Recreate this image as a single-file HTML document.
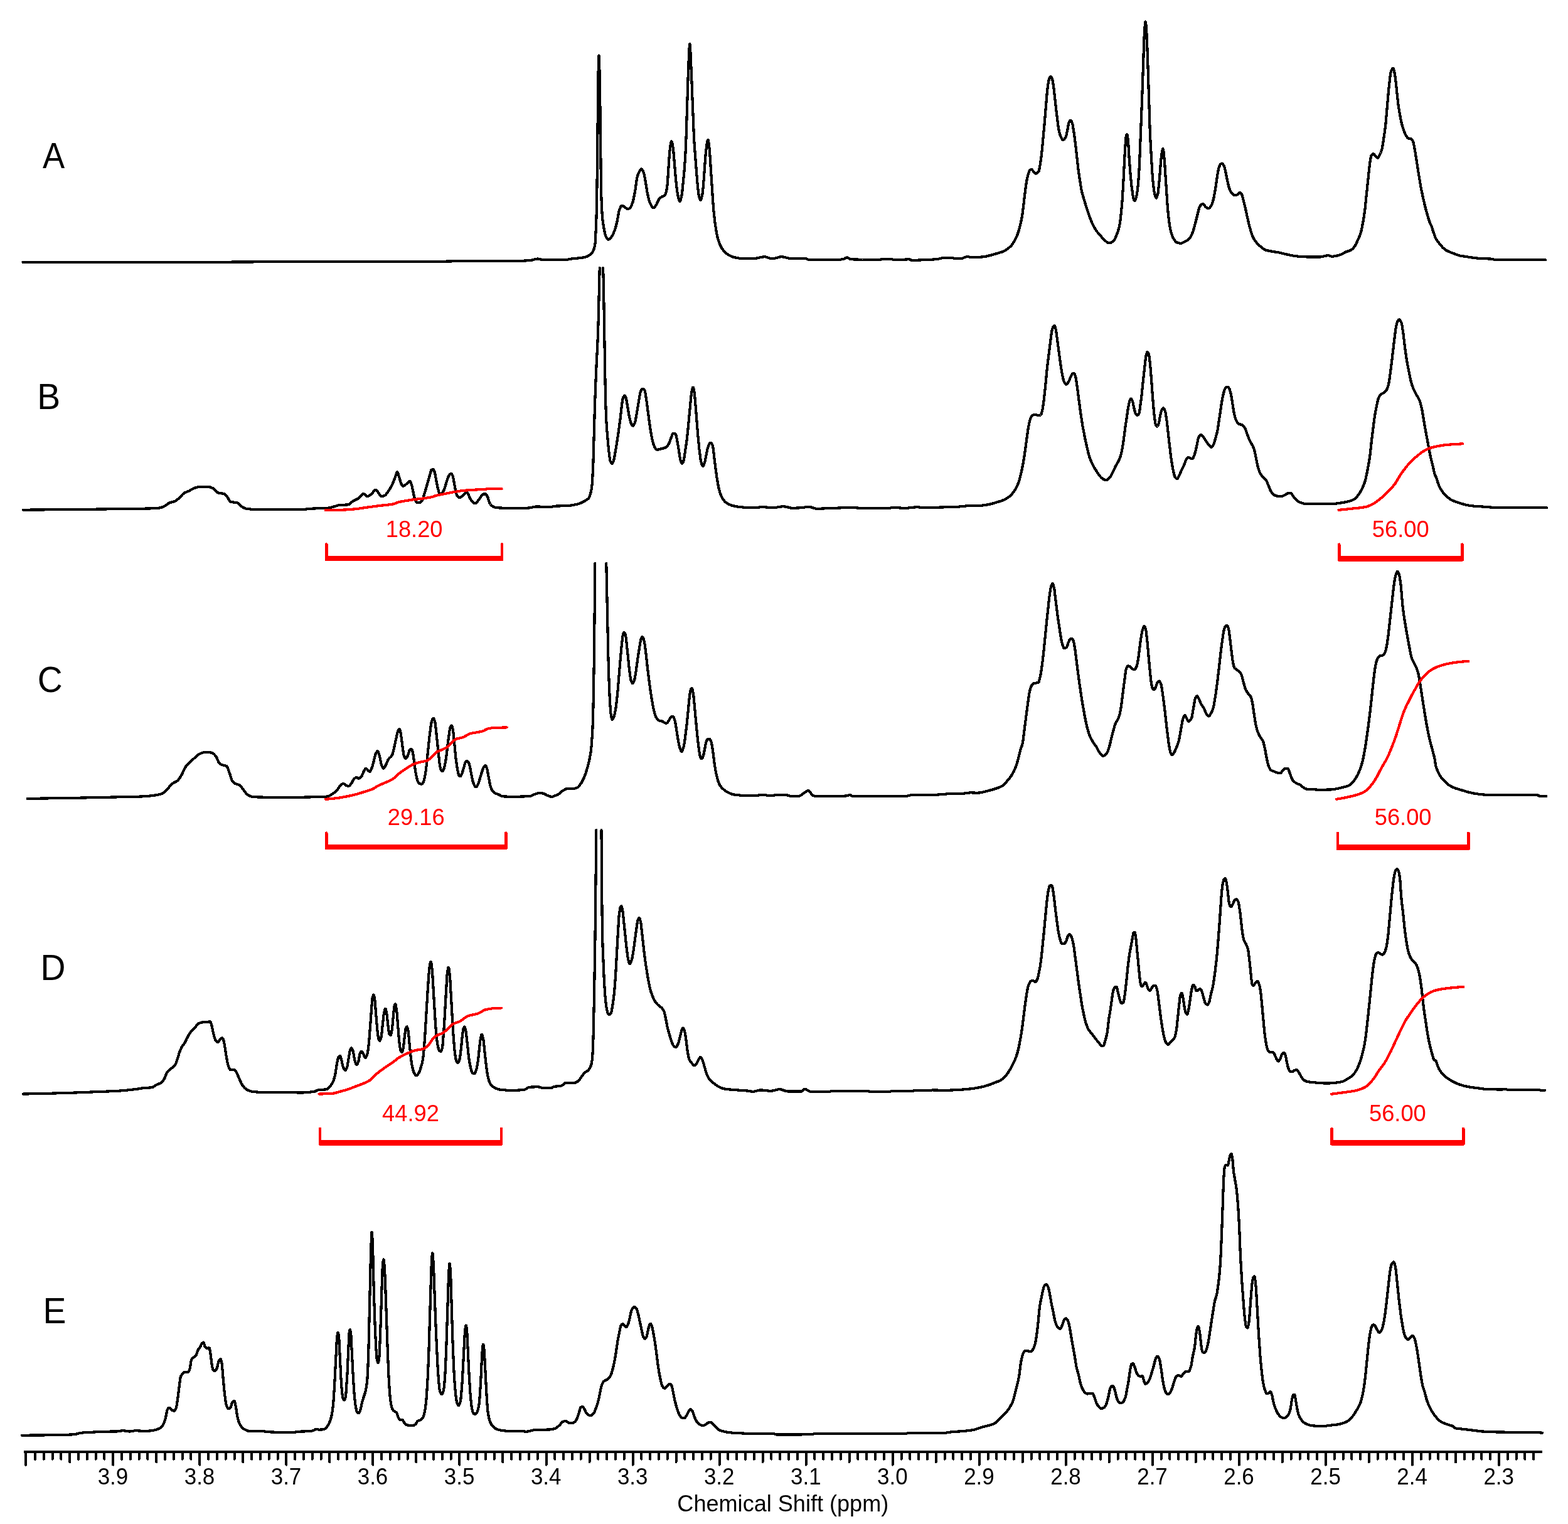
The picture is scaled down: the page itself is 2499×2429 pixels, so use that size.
<!DOCTYPE html>
<html lang="en"><head><meta charset="utf-8"><title>NMR spectra</title>
<style>html,body{margin:0;padding:0;background:#fff}body{width:2499px;height:2429px;overflow:hidden}svg{display:block;shape-rendering:crispEdges}.t{font-family:"Liberation Sans",sans-serif;fill:#000}.L{font-family:"Liberation Sans",sans-serif;fill:#000}.r{font-family:"Liberation Sans",sans-serif;fill:#f00}.s{fill:none;stroke:#000;stroke-width:4.2;stroke-linejoin:round;stroke-linecap:round}.i{fill:none;stroke:#f00;stroke-width:4.2;stroke-linejoin:round;stroke-linecap:round}</style></head><body>
<svg width="2499" height="2429" viewBox="0 0 2499 2429">
<rect width="2499" height="2429" fill="#fff"/>
<path class="s" d="M36.5 417.8 L336.0 417.8 L439.5 417.2 L678.0 416.9 L707.0 416.7 L748.0 415.8 L835.0 415.6 L840.5 415.3 L848.0 414.5 L854.5 412.8 L857.0 412.5 L859.0 412.7 L863.5 413.9 L865.5 414.2 L901.0 414.3 L910.5 412.6 L927.5 410.8 L933.5 409.6 L937.0 408.1 L940.0 406.2 L943.0 403.6 L944.0 402.4 L945.0 400.7 L946.5 397.1 L948.0 391.5 L948.5 388.4 L949.0 382.1 L950.5 347.4 L951.0 325.1 L951.5 295.1 L953.5 117.7 L954.0 98.3 L954.5 88.6 L955.0 94.2 L956.0 135.4 L958.0 302.0 L959.0 331.7 L960.0 346.1 L961.0 355.0 L962.0 361.4 L964.0 371.5 L965.0 375.3 L966.0 377.7 L968.0 380.7 L969.0 381.6 L970.0 381.8 L971.0 381.4 L972.0 380.6 L975.5 376.2 L977.5 372.4 L979.5 367.4 L981.5 361.0 L983.5 353.1 L986.5 336.4 L988.0 332.4 L989.5 329.2 L990.5 328.0 L991.0 327.8 L992.5 328.1 L996.0 330.2 L999.0 332.7 L1000.5 333.3 L1002.0 332.9 L1004.0 331.5 L1005.0 330.4 L1006.0 328.7 L1008.5 322.0 L1010.0 316.0 L1012.5 302.6 L1014.5 287.9 L1015.5 282.4 L1016.5 279.1 L1018.0 275.2 L1020.5 270.7 L1021.5 269.5 L1022.0 269.3 L1022.5 269.4 L1023.5 270.3 L1025.0 272.9 L1026.0 275.4 L1027.0 279.9 L1029.0 290.8 L1031.5 306.3 L1034.0 318.1 L1035.0 321.4 L1036.0 323.7 L1038.0 327.7 L1039.5 329.9 L1040.5 330.8 L1041.5 331.1 L1042.0 331.0 L1043.0 330.3 L1044.0 329.1 L1046.5 325.4 L1049.5 318.8 L1051.0 316.5 L1053.5 314.5 L1055.5 313.3 L1058.5 312.0 L1059.5 311.3 L1060.0 310.7 L1060.5 309.8 L1061.5 306.7 L1063.0 299.6 L1063.5 295.3 L1064.5 282.3 L1067.0 243.9 L1068.5 231.6 L1069.5 226.4 L1070.0 225.3 L1070.5 225.4 L1071.0 226.6 L1071.5 228.6 L1073.0 237.4 L1077.0 285.2 L1078.0 295.1 L1079.5 306.5 L1081.0 314.8 L1082.5 319.8 L1083.0 320.9 L1083.5 321.1 L1084.0 320.6 L1084.5 319.5 L1086.5 311.2 L1087.5 303.7 L1090.5 272.6 L1092.0 252.6 L1093.0 233.9 L1093.5 220.0 L1097.0 110.6 L1098.5 77.3 L1099.0 70.9 L1099.5 70.1 L1100.0 75.5 L1100.5 85.1 L1102.0 119.0 L1106.0 219.8 L1107.0 235.0 L1111.0 286.4 L1113.0 306.6 L1114.0 313.1 L1115.5 317.7 L1116.0 318.6 L1116.5 319.0 L1117.0 318.6 L1118.0 316.1 L1119.5 309.4 L1120.5 300.2 L1122.0 282.5 L1124.0 253.3 L1125.0 241.9 L1126.5 229.4 L1127.5 225.0 L1128.0 223.5 L1128.5 223.0 L1129.0 224.2 L1130.0 230.4 L1131.0 240.7 L1136.0 317.7 L1137.5 336.6 L1139.5 355.3 L1142.0 370.9 L1143.5 378.0 L1145.5 384.8 L1147.5 390.1 L1150.0 395.0 L1153.5 399.9 L1156.5 403.1 L1160.0 405.7 L1164.5 408.2 L1168.5 409.7 L1173.5 410.8 L1179.5 411.9 L1184.5 412.3 L1202.0 412.2 L1205.5 411.6 L1214.0 409.7 L1218.5 409.2 L1221.5 409.7 L1228.5 412.1 L1231.5 412.3 L1235.0 411.7 L1242.5 409.6 L1246.0 409.2 L1249.0 409.6 L1256.0 411.4 L1259.0 411.9 L1277.0 412.3 L1284.0 411.9 L1285.5 412.4 L1288.5 414.0 L1290.0 414.3 L1331.0 414.3 L1334.5 414.2 L1339.5 413.7 L1345.0 412.7 L1346.0 412.3 L1348.5 410.7 L1350.0 410.3 L1351.5 410.7 L1355.0 413.0 L1356.5 413.3 L1374.5 413.8 L1396.5 413.9 L1401.5 413.7 L1412.0 412.9 L1416.5 412.7 L1419.0 412.9 L1425.5 414.1 L1428.0 414.3 L1433.0 414.2 L1444.0 413.5 L1449.0 413.3 L1450.0 413.5 L1452.0 414.5 L1453.0 414.7 L1460.0 414.7 L1477.0 414.1 L1488.5 413.5 L1496.5 412.6 L1500.5 411.5 L1502.0 411.3 L1518.5 411.3 L1524.0 412.3 L1530.0 412.1 L1534.0 411.7 L1538.5 409.8 L1540.5 409.3 L1543.0 409.3 L1549.0 410.1 L1551.5 410.3 L1558.5 410.0 L1568.0 409.2 L1573.0 408.3 L1581.0 406.3 L1596.5 401.7 L1599.5 400.5 L1602.0 399.2 L1606.0 396.6 L1609.5 393.6 L1612.0 391.1 L1614.5 387.7 L1617.5 382.8 L1620.0 377.8 L1622.0 372.6 L1624.0 366.4 L1627.0 354.9 L1629.5 341.6 L1634.5 299.8 L1636.0 289.6 L1638.0 280.1 L1640.0 273.7 L1641.0 271.7 L1641.5 271.2 L1643.0 270.2 L1644.0 270.0 L1645.0 270.7 L1647.0 273.3 L1649.5 275.8 L1650.5 276.5 L1651.5 276.6 L1653.0 275.9 L1654.5 274.5 L1655.5 273.0 L1656.0 271.4 L1657.0 266.7 L1659.0 254.3 L1661.0 236.8 L1664.5 198.5 L1668.5 150.6 L1669.5 140.9 L1670.5 133.6 L1671.5 127.9 L1672.0 126.1 L1673.0 123.9 L1674.0 122.3 L1674.5 122.0 L1675.0 122.0 L1676.0 123.4 L1677.0 126.1 L1678.0 129.8 L1680.0 145.1 L1683.5 177.1 L1686.5 201.1 L1688.0 209.6 L1690.0 216.6 L1692.0 220.7 L1693.5 222.7 L1694.0 223.0 L1695.0 222.8 L1696.0 222.1 L1697.0 220.9 L1698.5 218.7 L1699.5 215.8 L1701.5 206.0 L1703.0 196.8 L1703.5 195.2 L1705.0 192.5 L1706.0 191.7 L1706.5 191.7 L1707.5 192.9 L1709.0 196.7 L1709.5 198.6 L1712.0 214.0 L1714.0 229.5 L1718.0 265.9 L1720.0 280.5 L1723.0 299.8 L1724.0 304.9 L1725.5 310.8 L1732.0 332.0 L1736.5 345.3 L1739.5 353.1 L1743.0 360.5 L1746.5 366.6 L1749.0 370.0 L1753.5 375.0 L1757.5 380.0 L1759.5 382.2 L1763.5 385.4 L1765.5 386.7 L1767.5 387.3 L1769.0 387.3 L1771.5 386.3 L1774.5 384.2 L1775.5 383.2 L1777.0 380.6 L1779.5 374.8 L1782.0 368.0 L1783.5 362.6 L1785.0 355.3 L1787.0 338.3 L1788.5 320.6 L1790.0 296.8 L1793.0 238.1 L1794.5 219.3 L1795.0 216.3 L1795.5 215.1 L1796.0 214.3 L1796.5 214.4 L1797.0 216.5 L1798.0 224.5 L1799.5 249.9 L1801.5 276.8 L1803.5 297.0 L1805.5 311.4 L1806.5 316.2 L1807.5 318.9 L1808.0 319.8 L1808.5 320.0 L1809.0 319.6 L1810.0 317.2 L1811.5 311.7 L1812.0 309.1 L1813.0 302.2 L1814.0 293.1 L1815.0 279.3 L1816.0 261.6 L1820.0 161.9 L1823.5 60.1 L1824.5 43.9 L1825.0 37.8 L1825.5 34.5 L1826.0 35.4 L1826.5 40.1 L1827.5 54.5 L1828.0 64.8 L1829.5 106.5 L1832.5 202.1 L1833.5 225.4 L1836.5 277.1 L1837.5 288.8 L1839.0 302.3 L1839.5 305.5 L1841.0 312.1 L1842.0 315.0 L1842.5 315.6 L1843.0 315.5 L1844.0 313.5 L1845.5 308.0 L1847.0 295.0 L1848.5 277.9 L1850.0 257.6 L1851.0 248.0 L1852.0 241.1 L1853.0 237.8 L1853.5 237.3 L1854.0 238.8 L1854.5 242.2 L1856.0 257.3 L1860.5 325.5 L1862.0 343.1 L1863.5 355.2 L1864.5 361.7 L1865.5 366.6 L1868.0 375.4 L1869.5 379.0 L1871.5 382.3 L1873.5 384.9 L1875.0 386.1 L1877.5 387.0 L1880.0 387.6 L1882.0 387.8 L1884.0 387.4 L1890.0 384.4 L1892.5 383.0 L1895.0 381.0 L1897.0 378.4 L1899.5 373.7 L1901.5 368.7 L1905.5 354.0 L1911.0 332.0 L1912.0 329.6 L1914.0 326.4 L1915.5 325.4 L1916.5 325.0 L1917.5 324.9 L1918.5 325.7 L1921.5 329.8 L1924.0 331.5 L1925.0 332.0 L1926.0 332.2 L1927.0 331.9 L1928.0 331.2 L1930.5 327.8 L1931.5 325.7 L1932.5 322.7 L1934.0 317.2 L1935.0 312.6 L1937.5 298.0 L1940.0 280.4 L1942.0 269.6 L1943.0 266.1 L1944.5 262.6 L1945.0 261.9 L1946.0 261.1 L1947.5 260.5 L1948.5 261.0 L1949.5 262.3 L1950.5 264.0 L1951.5 266.8 L1953.5 274.8 L1955.5 285.1 L1958.0 296.1 L1959.0 299.6 L1961.0 304.4 L1962.0 306.1 L1964.0 308.6 L1965.5 310.1 L1966.5 310.7 L1968.5 311.1 L1970.5 311.2 L1971.5 310.6 L1975.0 307.4 L1976.0 306.8 L1976.5 306.9 L1977.5 307.7 L1979.0 310.0 L1979.5 311.1 L1980.5 314.4 L1985.0 332.6 L1989.0 351.0 L1991.5 361.3 L1994.0 369.9 L1996.0 375.8 L1997.5 379.0 L1999.0 381.7 L2001.0 384.6 L2003.0 387.2 L2007.0 391.3 L2014.0 397.0 L2016.5 398.4 L2020.0 399.3 L2027.5 400.8 L2038.0 402.4 L2048.0 404.9 L2060.0 407.4 L2065.0 408.2 L2072.0 408.9 L2081.5 409.4 L2104.5 409.4 L2107.5 409.0 L2114.0 407.5 L2116.5 407.2 L2118.0 407.3 L2122.0 408.7 L2124.5 408.7 L2127.0 408.3 L2131.0 407.5 L2136.0 406.1 L2138.5 405.0 L2145.0 401.5 L2151.5 399.3 L2154.5 397.6 L2156.5 395.8 L2159.0 392.7 L2161.5 388.3 L2167.5 374.7 L2169.0 370.1 L2170.5 363.8 L2173.0 350.2 L2175.5 332.7 L2182.5 265.6 L2184.0 254.6 L2185.0 249.3 L2185.5 248.1 L2187.0 246.0 L2188.0 245.2 L2189.0 245.1 L2190.0 245.9 L2191.5 247.8 L2194.5 251.1 L2195.5 251.6 L2196.0 251.6 L2197.0 250.4 L2200.5 243.5 L2202.0 239.5 L2203.0 235.7 L2206.5 212.7 L2208.5 196.7 L2213.0 145.1 L2215.5 121.8 L2216.5 115.5 L2217.0 113.9 L2218.5 110.2 L2219.5 108.9 L2220.0 108.7 L2220.5 109.1 L2221.5 111.7 L2223.0 118.1 L2224.0 125.5 L2228.5 166.9 L2230.0 176.6 L2232.0 187.7 L2233.5 195.1 L2234.5 199.1 L2236.5 205.7 L2238.5 211.1 L2240.0 214.4 L2242.0 217.8 L2243.0 219.2 L2244.0 220.1 L2245.0 220.5 L2248.5 221.1 L2249.5 221.6 L2251.0 223.5 L2252.0 225.3 L2252.5 226.8 L2253.5 231.4 L2255.5 242.4 L2261.5 280.6 L2264.5 298.2 L2268.0 315.5 L2272.0 332.0 L2275.5 344.6 L2277.5 351.1 L2279.0 355.2 L2281.5 360.4 L2284.0 368.5 L2287.0 377.1 L2288.0 379.4 L2290.0 382.8 L2295.5 390.2 L2299.5 394.6 L2302.0 396.8 L2304.5 398.7 L2309.0 401.0 L2320.0 405.3 L2324.5 406.9 L2328.0 407.8 L2349.5 411.0 L2358.0 411.9 L2378.0 412.7 L2379.0 412.8 L2381.0 413.7 L2382.0 413.9 L2462.5 413.9 L2463.3 414.2"/>
<path class="s" d="M37.0 812.7 L118.5 812.0 L223.5 810.8 L244.5 810.3 L254.0 809.5 L257.5 808.8 L261.5 807.0 L264.0 805.6 L268.5 802.3 L270.5 801.2 L277.0 799.5 L279.5 798.5 L282.0 796.8 L286.0 793.4 L291.0 788.0 L293.0 786.2 L295.5 784.8 L301.5 782.4 L307.5 778.8 L311.5 777.3 L315.0 776.4 L319.5 775.9 L324.0 775.7 L332.0 775.9 L334.0 776.2 L336.0 776.8 L339.5 778.2 L340.5 778.9 L345.0 783.9 L346.5 785.1 L349.0 785.8 L355.5 786.7 L358.0 787.5 L359.5 788.7 L362.5 792.3 L366.0 798.4 L367.0 799.6 L369.0 800.2 L376.0 800.9 L378.5 801.5 L380.0 802.5 L383.5 806.0 L385.0 807.3 L389.5 809.8 L392.5 810.8 L400.0 811.6 L407.0 811.9 L459.5 811.6 L480.5 811.9 L486.0 811.7 L499.5 810.5 L522.0 809.8 L525.5 809.2 L531.5 807.7 L537.5 805.8 L540.0 805.1 L556.0 804.3 L557.5 803.3 L561.5 799.4 L564.0 798.0 L569.0 795.6 L571.0 794.5 L572.5 793.1 L576.5 788.6 L578.0 787.4 L579.0 787.1 L580.0 787.1 L581.0 787.8 L584.0 790.7 L585.0 791.1 L586.5 790.9 L588.5 789.9 L592.0 787.5 L596.5 782.2 L597.5 781.3 L598.5 780.9 L599.5 781.1 L600.5 781.9 L604.0 786.6 L606.0 789.8 L607.0 790.9 L607.5 791.1 L609.5 790.9 L613.0 790.0 L614.5 788.8 L616.5 786.3 L621.0 779.8 L624.0 774.6 L625.5 771.6 L627.0 767.9 L629.5 761.3 L632.0 753.7 L632.5 752.8 L633.0 752.3 L633.5 752.5 L634.5 754.7 L639.0 770.2 L640.5 772.8 L642.0 774.5 L643.0 774.7 L644.5 774.1 L648.0 771.2 L651.0 768.1 L652.0 767.4 L653.0 767.0 L653.5 767.1 L654.0 767.7 L655.0 769.9 L656.5 774.5 L660.0 791.1 L661.5 796.7 L663.0 799.6 L664.0 800.9 L664.5 801.3 L669.0 801.3 L670.0 800.9 L671.5 799.3 L673.0 797.1 L674.0 795.0 L678.0 781.7 L687.0 750.3 L687.5 749.2 L688.0 748.8 L690.0 748.2 L690.5 748.3 L691.5 749.4 L693.0 753.1 L695.5 767.1 L697.5 777.0 L699.5 784.5 L700.5 787.1 L701.0 787.4 L703.5 787.4 L704.0 787.3 L705.0 786.1 L707.0 782.2 L708.0 779.7 L710.0 773.8 L712.5 765.3 L715.0 758.8 L716.5 756.3 L718.0 755.0 L719.0 754.8 L719.5 755.0 L720.5 756.3 L721.5 758.3 L722.0 759.8 L726.5 784.4 L728.0 789.1 L729.0 791.0 L730.5 792.3 L731.5 792.9 L732.5 793.1 L733.5 792.9 L737.0 790.5 L740.5 786.8 L742.5 784.4 L743.0 784.0 L743.5 784.0 L744.5 784.7 L746.5 788.1 L749.0 794.2 L751.0 797.4 L753.5 800.2 L755.5 801.8 L756.5 802.2 L757.5 802.3 L758.0 802.1 L759.5 800.8 L762.5 797.4 L766.0 792.2 L768.5 789.2 L770.0 787.7 L771.0 787.4 L774.0 787.4 L774.5 787.6 L775.0 788.1 L776.0 789.9 L777.5 793.1 L780.0 801.0 L781.5 803.5 L783.0 805.4 L784.5 806.6 L787.5 808.2 L789.5 808.9 L792.5 809.3 L810.0 810.0 L829.0 810.3 L835.5 810.0 L844.0 809.4 L852.0 807.8 L855.0 807.4 L867.0 807.8 L880.0 807.8 L883.0 806.7 L903.5 806.1 L909.5 805.6 L914.0 804.9 L919.5 803.7 L922.5 802.8 L925.5 801.7 L930.0 799.6 L935.0 796.8 L937.5 794.7 L939.0 792.7 L940.5 788.8 L942.0 783.3 L943.0 777.9 L944.0 769.0 L945.5 735.6 L948.0 647.0 L949.0 618.9 L950.5 583.8 L952.5 544.4 L953.5 517.0 L955.7 427.2"/>
<path class="s" d="M961.0 427.2 L961.5 438.1 L962.0 457.2 L964.5 608.2 L965.0 634.1 L966.0 664.5 L967.0 682.1 L970.0 716.5 L972.0 732.4 L972.5 734.4 L973.5 736.7 L974.5 738.3 L975.0 738.7 L975.5 738.7 L976.0 738.4 L977.0 736.7 L978.0 734.3 L979.0 730.1 L983.0 706.6 L985.0 693.4 L988.5 667.9 L991.0 645.4 L992.5 636.1 L993.0 634.0 L993.5 632.7 L995.0 630.9 L995.5 630.6 L996.0 630.8 L996.5 631.5 L997.5 634.0 L998.5 637.8 L1002.5 661.8 L1004.5 670.7 L1006.0 675.4 L1007.5 677.8 L1008.5 678.6 L1009.0 678.7 L1009.5 678.4 L1010.0 677.8 L1011.0 675.7 L1012.5 671.5 L1013.0 669.3 L1020.0 627.6 L1021.0 624.2 L1022.0 621.8 L1022.5 621.0 L1023.5 620.2 L1025.0 619.6 L1026.0 620.2 L1027.5 622.6 L1028.0 624.0 L1028.5 626.5 L1031.0 642.8 L1034.5 670.0 L1037.0 687.3 L1038.5 695.7 L1040.0 702.6 L1041.5 708.1 L1043.0 712.1 L1045.5 715.8 L1046.5 716.6 L1047.0 716.7 L1049.5 716.4 L1056.0 714.8 L1060.0 713.5 L1062.0 712.4 L1063.0 711.6 L1064.0 710.4 L1066.5 706.2 L1071.0 693.9 L1072.0 691.7 L1072.5 691.3 L1073.5 690.8 L1075.0 690.7 L1076.0 691.5 L1077.0 693.0 L1077.5 694.0 L1078.0 695.8 L1081.0 712.0 L1084.0 731.9 L1085.0 735.2 L1086.0 737.5 L1086.5 738.3 L1087.0 738.7 L1087.5 738.6 L1088.5 737.1 L1090.0 732.7 L1094.5 702.2 L1096.0 688.9 L1101.5 630.9 L1103.0 620.7 L1104.0 618.0 L1104.5 617.4 L1105.0 617.8 L1105.5 619.4 L1106.5 624.6 L1107.0 628.7 L1108.5 645.7 L1112.0 690.3 L1114.5 716.5 L1116.5 731.9 L1117.5 736.8 L1118.5 740.1 L1119.5 742.5 L1120.0 743.0 L1120.5 743.1 L1121.0 742.6 L1121.5 741.6 L1123.5 735.3 L1127.0 717.8 L1128.0 713.8 L1129.0 710.7 L1130.0 708.1 L1131.0 706.7 L1132.0 706.0 L1133.0 705.6 L1133.5 705.8 L1134.0 706.3 L1135.5 709.4 L1136.0 711.0 L1136.5 713.9 L1140.5 746.9 L1142.5 761.5 L1145.0 775.5 L1146.0 780.0 L1147.5 785.2 L1149.5 790.6 L1151.0 793.6 L1153.5 797.3 L1155.5 799.7 L1157.5 801.4 L1161.0 803.5 L1164.0 804.8 L1167.5 806.0 L1173.0 807.2 L1179.0 808.0 L1190.5 809.1 L1198.5 809.4 L1202.5 809.3 L1210.5 808.4 L1214.0 808.2 L1218.5 808.3 L1229.0 809.1 L1233.5 809.2 L1237.0 808.8 L1244.5 807.5 L1248.0 807.2 L1252.0 807.6 L1260.5 809.6 L1262.5 809.8 L1265.5 809.8 L1278.0 809.2 L1286.0 808.0 L1289.0 807.8 L1292.0 808.2 L1299.0 810.4 L1302.0 810.9 L1345.0 809.2 L1363.5 809.2 L1369.5 809.8 L1416.5 809.8 L1418.5 809.7 L1423.0 808.9 L1425.0 808.8 L1437.5 809.7 L1441.5 809.8 L1447.0 809.6 L1458.5 808.4 L1463.5 808.2 L1469.0 809.2 L1475.0 809.2 L1526.5 807.8 L1542.0 806.2 L1562.0 805.8 L1567.5 805.4 L1574.0 804.4 L1580.5 803.0 L1587.5 800.8 L1595.5 798.5 L1599.5 796.9 L1603.5 794.9 L1607.0 792.7 L1610.0 790.2 L1613.5 786.6 L1616.5 782.7 L1619.0 778.7 L1621.5 773.7 L1623.0 769.9 L1624.5 765.2 L1627.5 753.9 L1630.5 739.2 L1633.0 723.7 L1638.5 684.0 L1640.5 673.2 L1641.5 669.5 L1642.5 666.7 L1643.5 664.6 L1644.5 663.2 L1646.0 661.9 L1647.0 661.4 L1650.0 660.9 L1651.0 661.0 L1654.0 661.9 L1656.0 661.9 L1658.5 661.5 L1659.0 661.0 L1659.5 660.0 L1661.0 655.2 L1662.0 650.2 L1664.0 635.1 L1666.0 616.7 L1669.0 584.8 L1675.5 533.1 L1676.5 527.0 L1678.0 521.7 L1678.5 520.6 L1679.0 520.1 L1680.0 519.3 L1680.5 519.2 L1681.0 519.6 L1681.5 520.7 L1683.0 526.1 L1689.5 574.9 L1691.5 588.5 L1693.0 597.2 L1694.5 604.1 L1695.5 607.5 L1696.5 609.6 L1698.0 611.8 L1699.0 612.5 L1700.0 612.3 L1701.5 610.8 L1703.5 607.7 L1706.0 601.5 L1708.5 596.5 L1709.0 595.9 L1710.0 595.3 L1711.5 594.9 L1712.0 595.2 L1713.0 597.0 L1714.0 599.6 L1715.0 604.4 L1717.0 618.3 L1722.0 656.6 L1725.5 679.5 L1730.0 702.5 L1735.0 724.0 L1736.5 728.9 L1739.0 735.4 L1741.5 740.7 L1744.5 746.2 L1751.0 756.1 L1753.5 759.5 L1755.5 761.6 L1759.0 764.0 L1761.5 765.1 L1762.5 765.2 L1763.5 765.1 L1764.5 764.7 L1766.0 763.7 L1768.0 762.0 L1769.0 760.8 L1770.5 758.3 L1779.0 741.2 L1783.0 734.3 L1784.5 730.9 L1785.5 728.0 L1787.5 720.5 L1789.0 712.7 L1790.5 703.3 L1793.5 680.2 L1798.0 650.0 L1800.0 639.9 L1801.0 637.4 L1802.0 635.9 L1802.5 635.5 L1803.0 635.6 L1803.5 636.2 L1804.5 638.3 L1805.5 641.4 L1807.0 648.9 L1808.5 655.0 L1809.5 658.3 L1810.0 659.3 L1811.5 661.2 L1812.5 661.9 L1813.0 661.9 L1814.0 661.2 L1815.5 658.3 L1816.5 653.3 L1819.5 630.0 L1822.5 600.8 L1826.0 569.7 L1826.5 566.9 L1827.5 563.3 L1828.0 562.0 L1828.5 561.2 L1829.0 561.2 L1830.0 562.3 L1831.0 564.5 L1832.0 570.7 L1834.0 591.1 L1837.5 638.4 L1839.0 656.3 L1840.5 669.2 L1841.5 675.3 L1842.0 677.0 L1843.5 679.3 L1844.0 679.6 L1844.5 679.5 L1845.0 679.0 L1846.0 677.0 L1847.0 674.3 L1849.0 662.8 L1850.5 656.6 L1851.5 653.5 L1853.0 651.2 L1854.0 650.5 L1854.5 650.6 L1855.0 651.1 L1856.5 654.2 L1857.5 657.6 L1859.5 670.2 L1865.0 718.6 L1866.5 730.5 L1868.0 740.4 L1870.0 751.0 L1872.0 758.8 L1873.0 760.9 L1874.5 762.5 L1875.5 763.0 L1876.0 763.0 L1876.5 762.7 L1877.5 761.4 L1879.5 757.8 L1883.0 749.4 L1887.0 741.5 L1890.0 733.1 L1892.0 730.1 L1893.0 729.1 L1894.0 728.8 L1896.5 730.2 L1899.5 731.0 L1900.5 731.0 L1901.5 729.9 L1903.5 725.3 L1905.0 720.4 L1907.0 712.0 L1909.5 699.3 L1911.0 695.7 L1912.0 694.4 L1913.0 693.6 L1914.0 693.1 L1915.0 693.2 L1915.5 693.6 L1919.0 698.2 L1925.5 708.2 L1929.0 712.0 L1930.0 712.6 L1931.0 712.6 L1932.0 711.7 L1933.0 710.2 L1934.5 707.4 L1935.5 704.6 L1939.5 690.1 L1940.5 685.7 L1947.0 642.0 L1948.5 633.5 L1950.0 626.8 L1951.5 621.8 L1953.0 618.7 L1954.0 617.5 L1955.5 616.9 L1956.5 616.7 L1957.0 616.8 L1958.0 617.7 L1959.5 620.1 L1961.0 624.7 L1962.5 631.7 L1966.5 657.1 L1968.5 665.4 L1970.0 669.8 L1972.0 673.2 L1973.5 675.0 L1975.0 676.0 L1979.0 677.0 L1980.5 677.6 L1982.0 679.1 L1984.5 683.1 L1991.0 700.7 L1996.5 710.7 L1998.0 714.0 L1999.0 716.8 L2000.5 723.3 L2004.0 741.2 L2006.0 748.5 L2007.5 752.5 L2009.5 756.1 L2011.5 758.9 L2013.0 760.6 L2016.5 763.8 L2018.0 765.7 L2019.5 768.7 L2025.0 782.1 L2027.0 785.3 L2029.0 787.7 L2031.5 789.3 L2034.0 790.3 L2038.0 791.0 L2042.0 791.2 L2043.0 791.1 L2044.5 790.6 L2053.0 785.9 L2055.0 785.8 L2057.5 786.2 L2058.5 787.1 L2060.5 790.3 L2064.0 794.9 L2065.5 796.4 L2068.0 798.5 L2070.5 800.0 L2074.5 801.6 L2077.5 802.5 L2080.5 803.1 L2100.5 803.4 L2124.5 803.0 L2130.5 802.5 L2139.5 801.2 L2145.0 800.1 L2151.5 798.5 L2156.0 796.9 L2159.0 795.3 L2161.5 793.0 L2165.0 788.7 L2168.0 784.2 L2171.5 777.5 L2174.0 771.6 L2176.0 765.6 L2179.0 752.0 L2182.5 732.4 L2183.5 725.1 L2186.0 702.0 L2190.5 666.5 L2192.0 657.2 L2195.0 642.2 L2196.5 636.0 L2197.5 633.5 L2199.0 630.6 L2200.0 629.2 L2201.0 628.3 L2205.5 626.0 L2207.5 624.4 L2209.0 622.7 L2210.0 621.2 L2211.0 619.1 L2213.0 612.8 L2214.5 604.2 L2217.0 585.4 L2222.5 538.8 L2224.5 523.6 L2225.5 518.5 L2227.0 513.1 L2227.5 511.9 L2228.5 510.4 L2229.5 509.4 L2230.0 509.3 L2231.0 509.9 L2232.5 512.2 L2233.5 514.5 L2234.5 518.5 L2236.5 532.0 L2239.0 553.1 L2241.5 570.9 L2243.5 582.5 L2248.0 605.2 L2250.5 613.9 L2253.0 620.5 L2255.5 625.7 L2261.5 636.2 L2263.0 639.7 L2264.0 642.9 L2266.5 654.0 L2271.5 683.6 L2279.0 723.6 L2280.5 730.7 L2284.0 744.6 L2286.0 753.4 L2287.0 756.8 L2289.0 760.8 L2291.5 769.1 L2294.0 775.4 L2296.5 780.2 L2299.5 784.6 L2302.0 787.6 L2305.5 790.9 L2310.5 795.2 L2313.5 797.1 L2318.5 799.2 L2333.5 804.0 L2337.0 804.9 L2342.0 805.8 L2352.0 806.9 L2367.5 807.8 L2381.0 809.0 L2465.0 809.3"/>
<path class="s" d="M43.9 1272.9 L118.9 1271.8 L219.9 1269.7 L230.9 1269.2 L236.9 1268.8 L248.9 1267.2 L254.9 1266.1 L258.4 1265.0 L260.9 1263.4 L266.4 1258.4 L271.9 1251.6 L273.9 1249.5 L276.4 1247.8 L281.4 1245.4 L283.9 1243.5 L286.4 1240.1 L289.9 1234.2 L294.4 1224.7 L296.4 1221.4 L298.4 1219.0 L300.4 1216.9 L305.9 1212.0 L312.9 1205.3 L316.4 1202.7 L319.9 1200.8 L321.9 1199.9 L324.4 1199.3 L331.4 1198.9 L334.4 1199.1 L338.4 1200.2 L339.9 1201.0 L341.4 1202.3 L344.4 1205.7 L345.4 1207.7 L348.4 1214.9 L349.4 1216.5 L349.9 1216.9 L351.9 1218.1 L353.9 1219.0 L355.9 1219.6 L359.4 1220.4 L361.4 1221.2 L362.4 1222.6 L363.4 1225.0 L366.9 1235.2 L368.9 1242.1 L369.9 1244.5 L370.4 1245.2 L372.4 1247.3 L374.4 1248.7 L376.4 1249.6 L380.9 1250.9 L382.4 1251.7 L383.9 1253.3 L392.9 1265.2 L393.9 1266.2 L395.4 1267.2 L398.9 1269.1 L400.4 1269.5 L403.4 1269.9 L411.4 1270.5 L451.4 1271.1 L465.4 1271.0 L509.9 1270.1 L517.9 1269.8 L521.9 1269.5 L523.9 1268.9 L526.4 1267.5 L530.9 1264.8 L533.9 1262.6 L536.9 1259.7 L541.9 1252.7 L544.4 1250.2 L545.9 1249.1 L546.9 1248.9 L547.4 1248.9 L548.4 1249.4 L551.4 1251.7 L554.4 1252.8 L555.9 1252.9 L557.4 1251.9 L559.9 1248.9 L563.4 1242.5 L566.4 1239.6 L567.4 1239.1 L568.4 1239.2 L570.9 1240.5 L571.9 1240.7 L572.9 1240.5 L573.9 1239.9 L576.4 1237.5 L579.9 1229.1 L581.9 1225.7 L582.9 1224.8 L583.4 1224.8 L584.4 1225.4 L588.4 1229.5 L589.4 1229.8 L589.9 1229.5 L591.4 1226.8 L593.4 1221.7 L595.4 1214.4 L597.4 1205.7 L598.4 1202.4 L599.9 1199.3 L600.9 1197.8 L601.4 1197.4 L601.9 1197.2 L602.4 1197.5 L602.9 1198.4 L604.4 1202.8 L605.4 1206.9 L607.4 1216.9 L608.9 1221.3 L610.4 1224.3 L610.9 1224.7 L611.4 1224.7 L611.9 1224.4 L612.9 1223.0 L614.9 1219.4 L617.9 1212.3 L618.9 1210.4 L620.4 1208.5 L623.4 1205.7 L624.4 1204.3 L625.4 1202.3 L626.4 1199.0 L628.4 1190.5 L633.4 1167.7 L634.9 1164.0 L635.9 1162.3 L636.4 1161.9 L636.9 1162.1 L637.4 1163.2 L638.9 1169.8 L642.9 1200.2 L643.4 1203.1 L643.9 1204.7 L644.9 1206.9 L645.9 1208.3 L646.4 1208.7 L646.9 1208.8 L647.4 1208.6 L648.4 1207.3 L649.9 1204.3 L652.4 1196.4 L653.9 1194.6 L654.9 1193.9 L655.4 1193.7 L655.9 1193.9 L656.4 1194.7 L657.4 1197.7 L658.4 1202.0 L661.9 1227.9 L663.4 1236.2 L664.9 1242.6 L665.9 1245.4 L667.9 1248.6 L668.9 1249.3 L671.9 1249.7 L672.4 1249.6 L673.4 1248.7 L674.4 1247.2 L675.4 1245.3 L676.4 1241.4 L677.4 1236.3 L678.4 1230.3 L679.9 1218.3 L684.4 1174.4 L686.9 1154.9 L687.9 1150.1 L688.9 1147.3 L689.9 1145.3 L690.4 1144.8 L690.9 1144.8 L691.4 1145.3 L692.4 1147.8 L693.4 1151.4 L693.9 1154.1 L700.4 1215.8 L701.4 1221.9 L702.4 1226.5 L702.9 1227.7 L704.4 1229.1 L704.9 1229.2 L705.4 1229.1 L706.4 1227.7 L707.9 1224.1 L708.9 1220.2 L710.9 1208.8 L714.9 1176.1 L716.9 1161.7 L717.4 1159.6 L717.9 1158.4 L718.9 1156.7 L719.4 1156.4 L719.9 1156.6 L720.4 1157.6 L721.9 1163.2 L723.4 1176.0 L725.9 1203.1 L726.9 1212.1 L728.9 1225.8 L730.9 1234.6 L731.4 1235.8 L732.9 1237.2 L733.4 1237.4 L733.9 1237.3 L734.4 1236.8 L735.4 1234.9 L736.9 1231.2 L741.4 1215.6 L741.9 1214.6 L743.4 1213.4 L744.4 1213.1 L745.4 1213.6 L746.9 1215.6 L747.9 1217.7 L748.9 1222.0 L752.4 1240.2 L753.4 1244.5 L754.4 1247.8 L755.4 1250.6 L756.4 1252.6 L757.4 1253.6 L758.4 1254.2 L759.4 1254.3 L759.9 1253.8 L761.9 1250.0 L763.4 1245.8 L767.4 1232.4 L769.9 1224.9 L770.4 1223.7 L771.4 1222.1 L772.4 1220.9 L773.4 1220.3 L773.9 1220.4 L774.9 1221.8 L776.4 1225.8 L780.9 1250.2 L782.4 1255.3 L783.9 1258.9 L785.9 1261.8 L787.9 1263.7 L789.9 1264.6 L794.4 1266.0 L798.4 1268.5 L799.9 1269.2 L804.4 1269.5 L810.4 1269.7 L828.9 1269.6 L843.9 1269.2 L845.9 1268.7 L850.4 1266.5 L854.4 1265.1 L857.4 1264.2 L859.9 1264.0 L862.9 1264.2 L866.4 1264.7 L867.9 1265.3 L871.4 1267.4 L874.9 1268.8 L877.9 1269.8 L879.9 1270.1 L882.4 1269.0 L887.4 1267.2 L889.9 1266.0 L891.4 1264.9 L896.4 1260.6 L899.9 1258.6 L902.4 1257.4 L904.9 1256.8 L914.9 1256.8 L917.4 1256.3 L919.9 1255.4 L921.4 1254.6 L922.9 1253.1 L927.4 1246.4 L930.9 1239.2 L933.9 1231.2 L937.4 1219.3 L939.9 1208.3 L941.4 1199.6 L942.9 1186.5 L944.4 1162.7 L945.4 1130.2 L945.9 1105.8 L946.9 1047.4 L948.4 897.7"/>
<path class="s" d="M966.3 897.7 L969.3 1042.6 L970.3 1078.7 L971.8 1114.1 L972.8 1130.0 L973.3 1135.9 L973.8 1139.5 L974.8 1144.8 L975.3 1146.4 L975.8 1147.0 L976.3 1146.7 L976.8 1146.1 L978.8 1141.5 L980.3 1135.0 L981.8 1126.1 L984.3 1103.6 L988.3 1055.4 L990.8 1027.7 L992.3 1014.8 L992.8 1012.3 L993.8 1009.2 L994.3 1008.3 L994.8 1008.0 L995.3 1008.3 L996.3 1010.4 L997.3 1013.8 L998.3 1021.8 L1002.8 1065.5 L1004.3 1077.2 L1005.3 1083.3 L1005.8 1085.2 L1007.3 1088.4 L1007.8 1089.0 L1008.3 1089.1 L1008.8 1088.8 L1009.3 1088.1 L1010.3 1086.0 L1011.3 1083.0 L1011.8 1080.6 L1013.8 1068.6 L1016.3 1049.7 L1020.8 1021.6 L1021.3 1019.5 L1022.8 1016.0 L1023.3 1015.3 L1023.8 1015.0 L1024.3 1015.2 L1025.3 1017.2 L1026.3 1020.4 L1026.8 1022.3 L1027.8 1028.2 L1029.8 1044.1 L1031.8 1063.1 L1034.3 1083.8 L1036.8 1102.0 L1038.8 1114.7 L1040.8 1126.0 L1042.3 1132.8 L1044.3 1140.1 L1045.8 1143.5 L1047.8 1146.5 L1049.3 1147.8 L1050.8 1148.5 L1055.3 1149.6 L1059.8 1152.3 L1060.8 1152.7 L1061.8 1152.9 L1062.8 1152.5 L1064.3 1150.9 L1066.3 1148.0 L1068.3 1144.1 L1069.3 1142.7 L1070.8 1142.3 L1072.3 1142.1 L1072.8 1142.2 L1073.3 1142.8 L1074.3 1144.7 L1075.3 1147.5 L1076.3 1151.4 L1080.8 1179.9 L1082.8 1189.6 L1083.8 1193.1 L1085.3 1196.4 L1086.3 1197.6 L1086.8 1197.6 L1087.8 1196.0 L1089.3 1191.5 L1090.3 1187.0 L1091.3 1180.5 L1094.3 1157.0 L1098.8 1111.6 L1099.8 1104.2 L1100.8 1099.1 L1101.8 1097.5 L1102.8 1096.9 L1103.3 1097.4 L1103.8 1099.2 L1105.3 1108.3 L1110.3 1162.1 L1112.8 1185.9 L1114.3 1197.5 L1115.3 1203.1 L1116.3 1207.1 L1117.3 1208.7 L1117.8 1209.2 L1118.3 1209.4 L1118.8 1209.1 L1119.3 1208.4 L1120.3 1206.1 L1121.3 1203.2 L1124.8 1185.2 L1125.8 1181.1 L1126.3 1180.0 L1127.3 1178.6 L1128.3 1177.9 L1130.8 1177.9 L1131.3 1178.1 L1132.3 1179.5 L1133.3 1181.7 L1134.3 1185.3 L1136.3 1198.5 L1138.8 1218.1 L1140.8 1230.1 L1142.8 1239.1 L1144.3 1244.4 L1145.8 1248.6 L1147.3 1251.5 L1149.3 1254.3 L1151.8 1257.0 L1154.8 1259.5 L1157.8 1261.6 L1160.3 1263.1 L1164.8 1265.1 L1168.3 1266.2 L1173.3 1267.0 L1180.3 1267.6 L1198.3 1268.2 L1203.3 1268.1 L1215.3 1266.8 L1218.3 1266.9 L1224.3 1268.0 L1226.8 1268.2 L1230.3 1268.0 L1238.8 1266.9 L1246.3 1266.9 L1254.3 1267.3 L1260.3 1269.0 L1262.3 1269.4 L1267.3 1269.3 L1273.3 1268.8 L1274.8 1268.5 L1276.8 1267.4 L1280.3 1264.7 L1285.8 1260.9 L1287.3 1260.2 L1288.3 1260.0 L1288.8 1260.2 L1289.8 1261.1 L1294.3 1266.8 L1295.3 1267.8 L1296.3 1268.3 L1298.8 1268.8 L1303.8 1269.4 L1325.3 1269.3 L1342.3 1268.9 L1351.3 1268.2 L1353.8 1267.0 L1354.8 1266.8 L1355.8 1267.2 L1357.3 1268.4 L1358.3 1268.8 L1445.3 1268.8 L1450.8 1267.4 L1487.8 1267.1 L1509.3 1265.4 L1535.3 1264.7 L1546.3 1263.3 L1556.8 1263.7 L1560.8 1263.5 L1567.3 1262.4 L1582.3 1258.4 L1592.8 1254.9 L1597.3 1252.7 L1599.3 1251.2 L1601.8 1248.6 L1607.8 1241.7 L1611.3 1237.1 L1613.8 1233.1 L1615.8 1229.3 L1618.3 1223.6 L1619.8 1219.5 L1622.8 1209.8 L1626.3 1195.2 L1628.8 1188.1 L1629.8 1184.3 L1630.8 1178.0 L1636.3 1134.3 L1639.8 1109.0 L1640.8 1102.8 L1641.8 1098.7 L1643.3 1094.3 L1644.8 1091.6 L1645.8 1090.3 L1646.8 1089.6 L1648.3 1089.1 L1654.8 1087.9 L1655.3 1087.5 L1655.8 1086.4 L1656.8 1082.8 L1658.3 1076.2 L1659.3 1070.5 L1661.8 1052.5 L1663.3 1039.1 L1668.3 988.9 L1672.3 952.2 L1673.3 944.6 L1674.8 935.8 L1676.3 931.8 L1677.3 930.4 L1677.8 930.4 L1678.3 931.0 L1678.8 932.4 L1680.3 938.6 L1685.3 979.8 L1689.8 1009.9 L1691.8 1021.4 L1692.8 1025.8 L1694.3 1030.2 L1695.3 1032.4 L1695.8 1033.0 L1696.3 1033.3 L1696.8 1033.3 L1698.3 1032.7 L1700.3 1030.9 L1701.3 1028.6 L1702.8 1023.9 L1704.3 1020.5 L1705.3 1018.8 L1706.8 1018.1 L1708.3 1017.9 L1709.3 1018.7 L1710.8 1021.4 L1711.8 1025.5 L1713.3 1034.5 L1719.8 1085.6 L1724.3 1115.8 L1728.3 1138.7 L1731.3 1153.7 L1732.8 1160.2 L1735.8 1170.4 L1737.3 1174.1 L1739.3 1178.2 L1742.3 1183.3 L1747.3 1190.3 L1751.8 1198.7 L1754.8 1202.6 L1756.8 1204.5 L1757.8 1205.0 L1758.8 1204.9 L1759.8 1204.5 L1760.8 1203.9 L1763.8 1200.9 L1765.3 1198.0 L1768.3 1188.9 L1773.3 1168.3 L1776.8 1155.7 L1778.3 1152.1 L1780.8 1148.0 L1781.8 1146.0 L1783.3 1142.4 L1784.3 1139.3 L1785.8 1132.4 L1787.3 1122.6 L1793.8 1071.7 L1794.8 1065.9 L1795.8 1063.6 L1796.8 1062.0 L1797.3 1061.6 L1798.3 1061.4 L1800.8 1062.2 L1803.3 1065.1 L1804.3 1065.9 L1806.8 1067.0 L1807.8 1067.1 L1808.3 1067.0 L1809.3 1066.1 L1810.3 1064.6 L1811.3 1062.7 L1811.8 1061.3 L1812.8 1057.1 L1814.3 1048.9 L1817.8 1021.0 L1819.3 1011.4 L1820.8 1004.3 L1822.3 1000.0 L1823.3 998.2 L1823.8 998.1 L1824.3 998.5 L1824.8 999.5 L1826.3 1004.3 L1826.8 1007.4 L1828.8 1026.0 L1831.8 1060.0 L1833.8 1080.2 L1834.8 1087.9 L1835.8 1093.5 L1836.8 1097.1 L1838.3 1098.8 L1839.3 1099.1 L1840.3 1098.2 L1842.3 1094.5 L1844.3 1088.4 L1845.3 1087.1 L1846.3 1086.1 L1847.3 1085.6 L1847.8 1085.7 L1848.3 1086.1 L1849.3 1087.7 L1850.3 1090.0 L1851.3 1094.5 L1853.8 1111.3 L1857.3 1139.7 L1860.3 1166.7 L1862.8 1185.7 L1864.3 1194.6 L1865.3 1199.1 L1866.8 1202.2 L1867.8 1203.2 L1868.3 1203.2 L1868.8 1202.9 L1869.8 1201.8 L1871.8 1198.7 L1876.8 1186.8 L1878.3 1182.6 L1879.8 1175.7 L1884.3 1149.8 L1885.3 1146.1 L1886.8 1141.9 L1887.8 1140.2 L1888.3 1139.9 L1888.8 1140.1 L1889.8 1141.8 L1891.3 1145.3 L1893.3 1148.6 L1894.3 1149.6 L1894.8 1149.6 L1895.8 1149.1 L1896.8 1148.2 L1897.8 1146.8 L1899.3 1144.0 L1899.8 1141.9 L1904.3 1115.3 L1905.3 1112.6 L1906.8 1110.1 L1907.8 1109.5 L1908.3 1109.6 L1908.8 1110.2 L1911.3 1115.1 L1913.8 1121.2 L1914.8 1122.9 L1917.8 1127.2 L1918.8 1128.9 L1922.3 1137.3 L1923.8 1139.3 L1925.3 1140.9 L1926.3 1141.4 L1926.8 1141.4 L1927.8 1140.6 L1930.8 1135.5 L1932.3 1132.4 L1933.3 1129.7 L1934.3 1125.8 L1937.8 1104.7 L1940.8 1081.7 L1946.3 1033.2 L1949.8 1008.5 L1950.8 1003.7 L1952.3 999.5 L1953.3 998.0 L1954.3 997.3 L1955.3 996.9 L1955.8 997.0 L1956.8 998.6 L1958.3 1003.1 L1959.3 1010.0 L1964.3 1051.5 L1965.3 1057.0 L1966.3 1061.3 L1967.3 1064.1 L1968.3 1065.4 L1971.3 1067.8 L1973.8 1069.1 L1974.8 1069.8 L1976.3 1071.5 L1977.8 1074.0 L1978.8 1076.2 L1979.3 1077.7 L1983.3 1093.1 L1984.8 1097.8 L1985.8 1100.0 L1987.3 1102.5 L1989.3 1105.4 L1992.3 1108.7 L1993.8 1111.4 L1994.8 1114.8 L1996.3 1121.6 L2000.3 1148.9 L2001.3 1154.4 L2002.8 1161.1 L2004.3 1166.0 L2006.3 1170.6 L2008.3 1174.3 L2011.8 1179.1 L2013.3 1182.3 L2014.3 1185.9 L2016.3 1195.0 L2018.3 1206.2 L2020.8 1218.0 L2022.3 1222.4 L2024.3 1226.3 L2025.3 1227.4 L2026.3 1228.0 L2030.8 1229.6 L2034.8 1231.4 L2037.3 1232.0 L2040.3 1232.3 L2040.8 1232.2 L2041.8 1231.4 L2046.3 1226.0 L2047.3 1225.1 L2047.8 1224.9 L2049.8 1224.7 L2051.8 1224.6 L2052.3 1224.8 L2053.3 1226.3 L2054.8 1229.8 L2057.3 1237.1 L2058.8 1240.6 L2060.3 1243.5 L2061.3 1244.7 L2062.8 1246.1 L2064.8 1247.6 L2066.8 1248.7 L2071.8 1250.7 L2073.3 1251.7 L2076.8 1254.8 L2080.3 1256.9 L2082.3 1257.6 L2102.8 1258.8 L2121.3 1258.5 L2125.3 1258.0 L2131.3 1257.1 L2147.3 1253.1 L2148.8 1252.5 L2150.8 1251.3 L2154.8 1248.2 L2157.8 1244.6 L2161.3 1239.3 L2164.3 1233.8 L2167.3 1226.9 L2169.8 1219.7 L2171.8 1212.4 L2173.8 1202.8 L2175.8 1191.5 L2178.3 1174.9 L2180.8 1156.6 L2183.8 1132.7 L2189.8 1077.3 L2190.8 1069.5 L2192.3 1060.2 L2193.3 1055.8 L2194.3 1052.5 L2195.3 1050.0 L2196.3 1048.3 L2197.8 1046.4 L2199.3 1045.2 L2200.3 1044.9 L2203.8 1044.5 L2204.8 1044.0 L2205.3 1043.5 L2207.3 1040.3 L2207.8 1039.1 L2208.8 1035.6 L2210.8 1025.4 L2212.3 1014.7 L2220.3 942.5 L2221.8 930.7 L2223.3 921.3 L2224.3 916.8 L2225.8 912.8 L2226.8 911.1 L2227.3 910.9 L2227.8 911.2 L2228.3 911.9 L2229.3 914.4 L2230.3 917.7 L2231.3 923.0 L2232.8 934.6 L2235.3 964.2 L2237.3 980.1 L2238.8 990.1 L2243.3 1016.1 L2248.3 1042.7 L2249.3 1047.1 L2250.3 1050.1 L2256.8 1062.9 L2258.8 1067.9 L2260.3 1072.8 L2261.3 1077.6 L2264.8 1099.1 L2268.3 1122.2 L2273.3 1152.9 L2276.3 1168.6 L2279.3 1181.7 L2285.8 1206.0 L2286.8 1210.8 L2287.8 1218.4 L2288.3 1220.9 L2289.3 1224.2 L2291.8 1230.1 L2293.8 1234.3 L2295.3 1236.9 L2298.8 1241.5 L2305.3 1248.2 L2308.3 1250.7 L2312.8 1253.4 L2317.3 1255.5 L2321.8 1257.1 L2330.8 1259.7 L2340.3 1262.6 L2347.3 1264.2 L2356.8 1265.7 L2367.3 1266.8 L2373.8 1267.3 L2450.3 1267.3 L2451.3 1267.6 L2453.8 1268.8 L2464.3 1268.9"/>
<path class="s" d="M37.0 1743.6 L72.5 1742.9 L112.5 1741.8 L182.0 1739.1 L193.5 1738.4 L203.5 1737.5 L217.5 1735.9 L228.5 1734.1 L240.5 1733.4 L243.5 1732.9 L245.0 1732.0 L248.5 1729.5 L255.0 1726.7 L256.5 1725.8 L258.0 1724.5 L260.0 1722.2 L262.0 1719.2 L265.5 1710.6 L267.0 1708.0 L269.5 1705.6 L276.5 1700.4 L278.5 1698.3 L280.0 1695.5 L282.0 1690.6 L285.5 1678.8 L287.5 1673.5 L289.0 1670.1 L290.5 1667.6 L293.5 1663.8 L295.0 1661.0 L298.0 1654.7 L300.0 1651.1 L303.0 1646.1 L305.5 1642.7 L311.5 1636.8 L315.0 1632.5 L316.5 1631.3 L319.5 1630.1 L322.0 1629.5 L324.0 1629.3 L331.0 1629.2 L334.5 1628.0 L335.0 1628.0 L335.5 1628.6 L336.5 1631.3 L338.0 1636.7 L340.0 1646.6 L341.0 1650.7 L342.5 1655.8 L343.5 1658.2 L344.0 1658.9 L346.0 1660.8 L347.0 1661.2 L347.5 1661.1 L348.5 1660.1 L350.0 1657.8 L353.0 1654.8 L354.0 1654.3 L354.5 1654.4 L355.0 1655.0 L355.5 1656.0 L357.0 1660.6 L357.5 1663.1 L361.0 1685.5 L362.5 1693.4 L364.0 1699.5 L365.5 1703.0 L366.5 1704.7 L367.0 1705.2 L367.5 1705.3 L373.0 1704.6 L373.5 1704.6 L374.5 1705.4 L376.0 1707.6 L378.0 1711.2 L381.5 1719.8 L384.5 1726.3 L386.0 1729.1 L389.5 1733.6 L391.5 1735.4 L393.0 1736.5 L397.5 1738.6 L401.0 1739.7 L403.5 1740.1 L412.0 1740.7 L422.5 1741.1 L461.5 1741.1 L480.0 1741.6 L488.5 1741.2 L497.5 1740.3 L501.5 1739.7 L506.0 1737.6 L508.0 1736.9 L518.5 1736.5 L520.5 1736.3 L521.5 1735.9 L523.0 1734.7 L527.0 1730.5 L529.5 1726.7 L531.5 1722.4 L533.0 1717.6 L534.5 1711.3 L537.0 1694.8 L538.5 1687.9 L539.5 1685.0 L541.0 1683.1 L541.5 1682.8 L542.0 1682.8 L542.5 1683.5 L543.0 1685.0 L544.5 1690.6 L546.5 1699.8 L547.0 1701.2 L549.0 1704.8 L550.0 1705.7 L550.5 1705.8 L551.0 1705.5 L552.0 1703.9 L553.5 1699.7 L557.5 1675.3 L558.5 1672.5 L559.5 1670.9 L560.0 1670.5 L560.5 1670.6 L561.0 1671.2 L562.5 1675.0 L563.5 1679.4 L565.0 1688.5 L567.0 1695.1 L568.0 1696.9 L568.5 1697.0 L569.0 1696.7 L569.5 1696.1 L571.0 1692.7 L571.5 1691.1 L573.0 1681.8 L573.5 1679.7 L574.5 1677.3 L575.5 1675.8 L576.0 1675.6 L576.5 1675.8 L577.5 1677.0 L579.5 1680.6 L581.5 1685.4 L582.0 1685.8 L582.5 1685.7 L583.0 1685.3 L584.0 1683.7 L585.5 1679.8 L586.0 1677.8 L587.0 1670.6 L588.0 1661.5 L589.0 1649.8 L593.0 1595.8 L593.5 1591.1 L594.0 1588.8 L595.0 1585.9 L595.5 1585.4 L596.0 1586.1 L596.5 1588.2 L597.5 1594.7 L601.0 1638.2 L602.0 1647.2 L603.0 1654.1 L603.5 1656.1 L604.5 1658.3 L605.0 1658.8 L605.5 1658.7 L606.0 1658.0 L607.0 1655.3 L608.0 1650.9 L611.5 1617.5 L613.0 1610.1 L613.5 1608.5 L614.0 1607.7 L614.5 1607.9 L615.0 1609.4 L616.5 1617.1 L618.5 1635.3 L620.0 1646.3 L620.5 1648.1 L621.5 1649.6 L622.0 1650.0 L622.5 1650.0 L623.0 1649.2 L624.0 1645.6 L625.0 1639.9 L628.0 1606.9 L628.5 1603.9 L629.0 1602.0 L629.5 1600.7 L630.0 1600.1 L630.5 1600.7 L631.0 1602.9 L632.5 1613.7 L636.0 1657.4 L637.0 1666.3 L638.0 1672.8 L639.0 1675.3 L640.0 1676.9 L640.5 1677.2 L641.0 1677.0 L641.5 1675.9 L643.0 1669.1 L645.0 1650.9 L646.5 1640.0 L647.0 1638.4 L648.0 1636.6 L648.5 1636.4 L649.0 1637.1 L650.5 1643.0 L651.0 1646.6 L654.0 1678.6 L655.5 1690.9 L656.5 1697.5 L658.0 1704.2 L659.5 1709.1 L660.5 1711.0 L662.0 1713.2 L663.0 1714.2 L664.0 1714.4 L664.5 1714.2 L665.5 1713.2 L667.5 1710.2 L668.5 1708.2 L669.5 1705.5 L672.5 1695.3 L673.5 1690.5 L674.5 1684.0 L675.5 1674.1 L677.0 1655.6 L682.0 1573.3 L683.5 1552.0 L684.5 1541.4 L685.5 1535.7 L686.0 1533.7 L686.5 1532.7 L687.0 1533.3 L687.5 1535.6 L689.0 1548.5 L694.0 1632.4 L695.5 1650.3 L697.0 1662.8 L698.0 1668.0 L699.5 1673.5 L700.0 1674.5 L701.0 1675.4 L702.5 1676.0 L703.0 1675.7 L703.5 1674.8 L705.0 1669.5 L705.5 1666.1 L708.0 1632.8 L712.5 1553.6 L713.0 1549.4 L714.0 1543.6 L714.5 1542.1 L715.0 1542.0 L715.5 1544.0 L716.0 1547.5 L717.0 1556.7 L717.5 1563.4 L722.0 1642.9 L724.0 1669.3 L725.0 1678.7 L726.5 1687.9 L727.5 1691.6 L729.0 1693.7 L729.5 1693.9 L730.0 1693.9 L731.0 1692.4 L732.5 1688.1 L733.0 1685.9 L735.0 1669.9 L736.5 1654.3 L738.0 1642.1 L738.5 1639.5 L739.0 1638.1 L740.0 1636.5 L740.5 1636.5 L741.0 1637.4 L741.5 1639.1 L742.5 1643.6 L743.0 1646.8 L747.0 1684.2 L748.0 1691.3 L750.0 1701.6 L751.5 1707.1 L752.5 1709.7 L753.0 1710.3 L754.0 1710.9 L755.0 1711.3 L756.0 1711.2 L756.5 1710.8 L757.5 1709.1 L759.0 1705.4 L759.5 1703.6 L761.0 1696.1 L762.0 1689.5 L765.5 1657.3 L767.0 1650.3 L767.5 1649.0 L768.0 1648.7 L768.5 1649.4 L769.0 1650.9 L770.5 1658.1 L775.0 1699.8 L776.5 1710.3 L778.0 1718.1 L780.0 1724.4 L781.0 1726.7 L782.0 1728.4 L783.5 1730.2 L785.0 1731.7 L788.0 1733.6 L791.0 1734.9 L794.0 1736.0 L796.5 1736.6 L799.5 1737.0 L807.0 1737.6 L814.0 1737.8 L821.0 1737.8 L828.0 1737.5 L836.0 1736.7 L837.5 1736.0 L842.0 1733.2 L843.0 1732.8 L846.0 1732.6 L858.0 1732.2 L863.5 1733.8 L880.0 1733.8 L881.0 1732.6 L883.0 1732.0 L885.5 1731.6 L892.5 1731.0 L895.5 1730.3 L897.0 1729.3 L899.5 1726.8 L901.0 1726.0 L916.0 1725.6 L917.0 1725.5 L918.5 1724.9 L921.0 1723.5 L922.5 1722.1 L931.0 1710.5 L932.5 1709.2 L936.5 1706.7 L938.0 1705.3 L939.0 1704.0 L940.5 1701.5 L942.0 1697.9 L943.0 1694.0 L944.0 1687.4 L944.5 1679.6 L945.5 1655.1 L947.0 1588.4 L948.5 1493.0 L950.4 1322.9"/>
<path class="s" d="M958.5 1322.9 L959.5 1453.9 L960.5 1507.0 L962.5 1555.6 L964.0 1582.0 L965.0 1593.6 L966.0 1602.4 L967.0 1608.6 L968.5 1614.6 L969.0 1615.6 L969.5 1616.1 L970.5 1616.7 L971.5 1616.8 L972.5 1616.3 L974.0 1614.5 L975.0 1610.6 L978.0 1591.1 L979.5 1576.1 L981.0 1555.9 L985.0 1484.0 L986.5 1460.4 L988.0 1448.9 L988.5 1446.9 L989.5 1444.7 L990.0 1444.2 L990.5 1444.2 L991.0 1445.4 L991.5 1447.5 L992.5 1452.8 L993.0 1456.7 L997.5 1501.1 L1000.0 1522.0 L1000.5 1525.5 L1001.5 1530.3 L1002.5 1534.1 L1003.0 1535.5 L1003.5 1536.2 L1004.0 1536.2 L1004.5 1535.7 L1005.5 1533.7 L1007.0 1529.4 L1008.0 1524.8 L1010.0 1512.5 L1014.0 1482.2 L1016.0 1468.9 L1016.5 1466.9 L1018.0 1463.4 L1018.5 1462.9 L1019.0 1463.0 L1019.5 1463.8 L1021.0 1469.3 L1021.5 1472.2 L1026.5 1517.0 L1029.0 1536.3 L1033.0 1561.1 L1036.0 1575.6 L1037.5 1580.9 L1039.5 1586.6 L1042.0 1592.4 L1044.0 1596.1 L1046.0 1598.8 L1048.0 1601.0 L1050.0 1602.8 L1053.5 1605.4 L1055.0 1606.7 L1057.0 1609.5 L1058.5 1612.5 L1060.0 1618.2 L1064.0 1638.7 L1069.0 1656.2 L1071.0 1662.0 L1072.5 1665.4 L1074.5 1667.8 L1076.0 1669.0 L1077.0 1669.3 L1077.5 1669.3 L1078.5 1668.2 L1080.5 1664.0 L1081.5 1661.3 L1083.5 1653.8 L1086.0 1643.4 L1087.0 1640.8 L1088.0 1638.9 L1088.5 1638.5 L1089.0 1638.6 L1090.0 1640.2 L1091.0 1643.0 L1092.0 1647.6 L1093.5 1657.9 L1095.5 1674.1 L1097.0 1682.9 L1098.0 1687.0 L1099.0 1689.4 L1100.5 1692.0 L1105.0 1697.4 L1106.5 1698.4 L1107.5 1698.3 L1108.5 1697.5 L1110.0 1695.3 L1111.5 1692.8 L1113.5 1688.3 L1114.5 1686.7 L1116.0 1684.9 L1116.5 1684.8 L1117.0 1685.0 L1118.0 1686.4 L1120.0 1690.7 L1126.0 1711.2 L1128.0 1715.8 L1130.0 1719.2 L1132.0 1721.7 L1134.0 1723.7 L1137.5 1726.6 L1141.0 1729.2 L1144.0 1731.1 L1147.5 1732.9 L1150.5 1734.3 L1153.0 1735.2 L1156.5 1735.8 L1162.0 1736.4 L1191.5 1738.6 L1198.0 1739.7 L1200.0 1739.8 L1202.5 1739.6 L1209.0 1737.8 L1212.0 1737.4 L1216.0 1737.6 L1225.5 1738.7 L1229.5 1738.8 L1232.5 1738.3 L1239.5 1736.5 L1242.5 1736.2 L1245.5 1736.6 L1252.0 1738.9 L1254.5 1739.4 L1277.5 1739.4 L1278.5 1739.1 L1281.5 1736.2 L1282.5 1735.8 L1284.5 1736.2 L1289.5 1739.1 L1291.5 1739.8 L1310.5 1740.2 L1320.5 1740.2 L1324.5 1739.2 L1383.5 1739.2 L1384.5 1739.3 L1387.0 1740.1 L1388.0 1740.3 L1416.5 1740.2 L1420.5 1739.2 L1453.0 1739.2 L1454.0 1739.1 L1457.0 1738.2 L1482.0 1738.2 L1486.0 1737.4 L1504.0 1737.8 L1512.5 1737.7 L1531.0 1736.8 L1540.0 1736.1 L1551.0 1734.9 L1560.5 1733.3 L1568.5 1731.5 L1577.5 1728.7 L1587.5 1724.7 L1592.0 1723.1 L1594.5 1721.9 L1598.0 1719.3 L1602.0 1715.7 L1604.5 1712.6 L1607.0 1709.0 L1610.5 1703.3 L1614.5 1695.7 L1617.5 1689.3 L1619.5 1684.2 L1621.5 1678.0 L1623.5 1670.3 L1627.0 1651.9 L1629.5 1635.5 L1633.0 1607.0 L1635.0 1592.5 L1637.0 1579.4 L1638.5 1572.6 L1639.5 1569.5 L1640.5 1567.3 L1642.0 1564.8 L1643.0 1563.8 L1644.5 1563.2 L1646.0 1562.9 L1647.0 1563.3 L1649.5 1565.0 L1650.5 1565.0 L1651.0 1564.6 L1652.0 1563.2 L1653.5 1560.2 L1654.0 1558.7 L1655.0 1554.3 L1657.5 1541.5 L1659.5 1527.6 L1663.5 1488.6 L1668.0 1440.5 L1670.0 1423.8 L1671.0 1418.1 L1672.5 1412.9 L1673.0 1411.9 L1673.5 1411.5 L1675.0 1410.7 L1675.5 1410.7 L1676.0 1411.2 L1676.5 1412.1 L1677.5 1414.9 L1678.0 1416.9 L1680.0 1431.3 L1682.5 1453.5 L1686.5 1483.5 L1688.5 1493.6 L1691.0 1501.8 L1692.0 1503.8 L1692.5 1504.0 L1695.5 1504.4 L1696.5 1504.2 L1697.5 1503.0 L1699.5 1499.3 L1701.0 1494.4 L1702.0 1492.0 L1703.5 1489.8 L1704.5 1489.0 L1705.0 1489.1 L1705.5 1489.4 L1706.5 1490.8 L1708.0 1493.9 L1709.0 1497.1 L1710.5 1503.7 L1711.5 1509.4 L1719.0 1566.4 L1723.5 1596.9 L1725.5 1608.4 L1728.5 1622.6 L1730.5 1630.2 L1733.5 1638.4 L1734.5 1640.5 L1736.0 1642.8 L1740.5 1647.9 L1746.0 1655.6 L1751.5 1662.2 L1754.5 1666.3 L1755.5 1667.0 L1757.5 1666.9 L1759.0 1666.4 L1759.5 1665.5 L1763.0 1653.4 L1764.5 1646.8 L1765.0 1643.7 L1767.0 1625.2 L1769.5 1610.7 L1773.5 1582.4 L1774.0 1579.6 L1775.0 1576.4 L1776.0 1574.4 L1777.0 1573.3 L1779.5 1573.3 L1780.0 1573.9 L1784.0 1590.7 L1786.0 1597.1 L1786.5 1598.2 L1787.0 1598.8 L1787.5 1598.9 L1790.0 1598.2 L1790.5 1597.5 L1791.5 1592.9 L1793.0 1583.4 L1795.0 1565.8 L1797.5 1540.9 L1800.0 1521.4 L1806.0 1488.9 L1806.5 1487.0 L1807.5 1486.0 L1808.5 1485.7 L1809.0 1487.1 L1809.5 1489.7 L1810.5 1496.5 L1815.5 1549.4 L1817.0 1563.3 L1817.5 1566.6 L1818.0 1568.5 L1819.0 1571.4 L1819.5 1572.2 L1820.0 1572.4 L1821.0 1571.6 L1823.0 1568.8 L1824.5 1566.4 L1825.0 1565.9 L1825.5 1565.8 L1826.0 1566.2 L1826.5 1567.1 L1827.5 1569.3 L1829.5 1575.6 L1831.0 1577.8 L1832.0 1578.7 L1832.5 1578.8 L1833.0 1578.5 L1833.5 1577.9 L1837.0 1572.5 L1838.0 1571.3 L1838.5 1571.1 L1841.5 1571.1 L1842.0 1571.4 L1842.5 1572.2 L1844.0 1576.8 L1845.0 1582.1 L1850.0 1622.3 L1852.0 1635.5 L1854.5 1649.4 L1856.5 1657.2 L1858.0 1661.4 L1860.0 1663.9 L1861.0 1664.6 L1862.0 1664.8 L1862.5 1664.6 L1863.5 1663.6 L1866.5 1659.7 L1869.5 1657.2 L1871.0 1655.5 L1872.0 1653.9 L1873.0 1650.8 L1874.5 1643.8 L1875.5 1637.1 L1880.5 1589.7 L1881.0 1586.7 L1881.5 1585.3 L1882.5 1583.4 L1883.0 1582.9 L1883.5 1582.8 L1884.0 1583.6 L1884.5 1585.3 L1886.0 1592.7 L1887.5 1604.1 L1888.5 1609.4 L1889.5 1613.6 L1890.0 1614.7 L1890.5 1615.4 L1891.5 1616.3 L1892.0 1616.5 L1892.5 1616.3 L1893.0 1615.1 L1895.0 1605.6 L1899.0 1577.9 L1900.5 1571.9 L1901.5 1569.7 L1902.0 1569.6 L1902.5 1569.9 L1904.5 1572.9 L1906.0 1577.8 L1906.5 1579.1 L1907.0 1579.4 L1908.0 1579.1 L1911.5 1576.6 L1912.5 1576.2 L1913.0 1576.2 L1914.0 1577.1 L1916.0 1581.3 L1918.0 1589.2 L1920.5 1597.9 L1921.0 1599.0 L1922.0 1600.2 L1923.5 1601.3 L1924.5 1601.5 L1925.0 1601.2 L1926.0 1599.7 L1927.5 1596.2 L1930.0 1584.0 L1932.5 1574.5 L1933.5 1569.8 L1936.5 1549.2 L1939.0 1527.4 L1941.0 1505.3 L1943.5 1472.7 L1946.5 1429.0 L1947.5 1418.3 L1948.5 1410.3 L1949.0 1407.3 L1950.0 1403.4 L1950.5 1402.0 L1951.0 1401.2 L1952.5 1400.3 L1953.0 1400.4 L1953.5 1401.4 L1955.0 1407.5 L1957.0 1423.2 L1958.5 1436.7 L1959.0 1439.8 L1960.5 1443.9 L1961.5 1445.2 L1962.0 1445.3 L1962.5 1445.0 L1963.5 1443.6 L1965.0 1440.9 L1967.0 1435.7 L1967.5 1435.0 L1969.5 1433.7 L1970.5 1433.4 L1971.0 1433.5 L1971.5 1433.8 L1973.0 1436.1 L1974.0 1438.8 L1976.5 1455.0 L1980.0 1486.0 L1981.5 1494.6 L1982.0 1496.7 L1983.0 1499.5 L1985.5 1504.1 L1987.5 1508.7 L1988.5 1511.6 L1989.5 1516.1 L1991.5 1532.3 L1994.5 1561.6 L1995.5 1568.3 L1997.0 1570.7 L1997.5 1571.0 L1998.0 1571.0 L1998.5 1570.6 L2000.0 1567.9 L2002.5 1564.4 L2003.5 1563.6 L2004.0 1563.6 L2004.5 1564.0 L2005.5 1565.8 L2007.0 1569.6 L2007.5 1571.6 L2009.0 1580.0 L2010.0 1588.1 L2014.5 1637.0 L2016.0 1651.1 L2018.0 1664.1 L2019.5 1670.5 L2020.5 1673.5 L2021.0 1674.4 L2022.5 1676.1 L2023.5 1676.8 L2024.5 1677.0 L2029.0 1677.2 L2029.5 1677.4 L2030.0 1678.0 L2031.0 1679.9 L2034.5 1688.1 L2036.5 1691.0 L2037.5 1691.5 L2038.0 1691.3 L2038.5 1690.8 L2040.5 1687.3 L2042.5 1681.5 L2043.0 1680.5 L2045.0 1678.0 L2046.0 1677.6 L2046.5 1677.9 L2048.0 1679.9 L2049.0 1682.5 L2050.5 1690.9 L2052.5 1700.1 L2054.0 1704.5 L2055.5 1707.4 L2056.0 1707.8 L2056.5 1707.9 L2060.0 1707.9 L2061.0 1707.5 L2062.5 1706.2 L2063.5 1705.7 L2065.5 1705.3 L2067.0 1705.3 L2067.5 1705.7 L2068.5 1707.0 L2070.5 1710.1 L2073.5 1715.6 L2076.5 1720.0 L2078.0 1721.6 L2081.0 1723.1 L2083.0 1723.8 L2085.5 1724.3 L2098.5 1725.7 L2106.0 1726.3 L2114.0 1726.6 L2120.5 1726.4 L2130.0 1725.5 L2135.5 1724.7 L2140.0 1723.7 L2142.0 1722.8 L2144.5 1721.5 L2152.5 1716.5 L2156.5 1713.1 L2159.5 1709.4 L2163.0 1703.6 L2165.5 1697.9 L2168.5 1689.5 L2171.5 1678.8 L2173.5 1670.3 L2175.0 1662.8 L2177.0 1649.5 L2181.0 1613.5 L2187.0 1554.5 L2189.0 1538.2 L2190.0 1531.7 L2192.0 1523.4 L2193.0 1521.0 L2194.0 1519.7 L2195.5 1518.4 L2196.5 1518.1 L2197.5 1518.5 L2202.0 1521.4 L2203.0 1521.6 L2204.0 1521.3 L2205.5 1519.8 L2207.0 1517.5 L2208.0 1514.9 L2209.5 1509.6 L2211.0 1501.1 L2212.5 1489.3 L2218.0 1429.1 L2220.5 1405.9 L2222.0 1395.8 L2223.5 1389.4 L2224.5 1386.6 L2225.0 1386.0 L2226.5 1385.3 L2227.0 1385.3 L2227.5 1385.7 L2229.0 1388.6 L2230.0 1392.6 L2231.0 1399.2 L2231.5 1403.7 L2233.0 1426.7 L2234.0 1438.0 L2236.0 1453.9 L2238.5 1478.7 L2239.5 1487.0 L2241.0 1497.9 L2243.5 1512.7 L2245.5 1520.0 L2246.5 1522.8 L2248.0 1526.2 L2250.0 1529.2 L2254.0 1533.3 L2257.0 1537.2 L2258.0 1539.0 L2259.0 1541.3 L2260.5 1546.2 L2262.5 1554.9 L2264.0 1564.1 L2265.5 1575.0 L2269.0 1605.8 L2270.0 1613.3 L2274.5 1643.5 L2276.5 1655.1 L2278.0 1662.5 L2280.0 1670.9 L2284.5 1687.2 L2285.5 1689.2 L2286.0 1689.6 L2288.0 1690.0 L2288.5 1690.6 L2291.0 1698.4 L2293.5 1703.9 L2295.5 1707.3 L2299.0 1711.9 L2302.5 1715.4 L2307.0 1718.7 L2314.0 1723.1 L2320.5 1726.3 L2327.0 1728.9 L2333.5 1730.7 L2340.5 1732.3 L2346.5 1733.2 L2358.0 1734.6 L2366.0 1735.8 L2369.5 1736.1 L2394.0 1736.6 L2399.0 1735.7 L2400.0 1735.9 L2403.0 1736.9 L2404.0 1737.0 L2452.5 1737.0 L2453.0 1737.0 L2455.0 1737.8 L2461.9 1737.9"/>
<path class="s" d="M34.9 2287.7 L72.9 2287.4 L101.4 2286.9 L113.4 2286.5 L120.4 2286.0 L127.9 2283.9 L134.4 2283.3 L165.4 2281.7 L186.4 2281.5 L194.9 2280.2 L197.4 2280.3 L203.9 2281.3 L206.4 2281.5 L208.9 2281.3 L215.4 2280.2 L228.4 2280.8 L236.9 2280.6 L241.9 2280.3 L244.4 2279.9 L250.9 2278.0 L254.4 2276.6 L256.4 2275.4 L257.9 2273.8 L259.9 2270.8 L261.4 2267.9 L262.4 2265.1 L263.9 2260.0 L266.4 2247.7 L267.4 2245.5 L268.4 2244.1 L268.9 2243.7 L269.9 2243.8 L272.9 2246.8 L275.4 2248.2 L276.9 2248.6 L277.9 2248.6 L278.4 2248.2 L279.9 2245.8 L280.9 2243.5 L281.9 2238.4 L283.9 2224.0 L286.9 2199.6 L287.4 2196.4 L287.9 2194.5 L288.9 2192.3 L289.9 2190.9 L293.4 2187.4 L294.9 2186.7 L299.9 2186.6 L300.4 2186.3 L300.9 2185.6 L301.9 2183.3 L302.9 2180.3 L304.4 2170.0 L304.9 2167.5 L305.4 2166.5 L306.9 2164.7 L311.4 2161.2 L312.4 2160.2 L313.4 2158.1 L314.9 2153.4 L315.9 2150.9 L319.4 2146.3 L321.4 2141.6 L321.9 2140.9 L323.4 2139.8 L324.4 2139.6 L324.9 2140.5 L326.4 2146.1 L327.4 2147.3 L328.4 2148.1 L329.4 2148.7 L330.4 2148.8 L333.4 2148.3 L333.9 2148.8 L334.4 2150.9 L335.9 2160.8 L337.9 2177.6 L339.4 2182.8 L339.9 2183.8 L340.4 2184.4 L341.9 2185.0 L342.9 2185.0 L343.4 2184.7 L344.4 2183.4 L345.9 2180.4 L348.4 2170.1 L349.4 2168.1 L350.4 2166.6 L351.4 2166.0 L351.9 2166.4 L352.9 2169.8 L353.9 2175.1 L355.9 2200.0 L357.9 2221.0 L359.9 2235.5 L360.9 2240.1 L362.4 2243.5 L363.4 2244.9 L363.9 2245.2 L364.4 2245.2 L365.4 2244.8 L366.9 2243.6 L367.9 2242.3 L369.9 2235.6 L370.4 2234.8 L371.9 2233.2 L372.9 2232.7 L373.4 2232.7 L373.9 2233.6 L374.4 2235.3 L375.9 2242.3 L378.4 2258.4 L380.4 2265.6 L381.9 2269.4 L383.4 2272.1 L385.4 2274.9 L387.4 2276.9 L392.4 2279.6 L394.4 2280.4 L396.4 2280.8 L415.9 2280.9 L430.9 2282.4 L445.9 2282.9 L450.9 2283.3 L468.9 2282.9 L475.9 2281.7 L492.9 2281.2 L495.9 2280.8 L499.4 2280.1 L502.9 2278.0 L503.9 2277.8 L508.4 2278.7 L512.9 2278.5 L516.4 2278.0 L518.4 2276.9 L520.9 2274.6 L522.9 2271.5 L524.9 2267.5 L526.4 2263.7 L527.9 2258.6 L528.9 2254.2 L529.9 2248.2 L530.9 2239.8 L531.4 2233.9 L532.9 2211.9 L536.9 2133.4 L537.9 2125.9 L538.4 2124.1 L538.9 2124.3 L539.4 2126.5 L540.4 2134.9 L543.4 2195.9 L544.4 2211.1 L545.4 2221.0 L546.4 2227.6 L546.9 2229.1 L547.9 2231.1 L548.4 2231.6 L548.9 2231.4 L549.4 2230.7 L550.4 2228.1 L550.9 2225.8 L551.4 2221.0 L553.4 2191.6 L556.4 2125.7 L556.9 2121.8 L557.4 2119.8 L557.9 2119.3 L558.4 2120.9 L559.4 2128.1 L562.9 2195.8 L564.4 2219.1 L565.4 2230.2 L566.4 2238.9 L567.4 2244.6 L568.4 2248.9 L568.9 2250.2 L569.9 2251.5 L570.9 2252.3 L571.4 2252.4 L571.9 2252.2 L572.9 2250.7 L574.4 2247.1 L574.9 2245.4 L577.4 2233.6 L582.4 2218.2 L583.9 2210.9 L585.4 2198.2 L586.4 2179.4 L587.4 2151.0 L590.9 2001.6 L591.9 1973.3 L592.4 1964.3 L592.9 1964.0 L593.4 1972.6 L594.4 2000.9 L595.9 2061.4 L597.9 2120.3 L599.9 2158.7 L600.4 2164.2 L600.9 2167.2 L601.9 2171.4 L602.4 2172.0 L602.9 2171.2 L603.4 2169.4 L604.4 2163.1 L604.9 2156.2 L606.9 2103.0 L609.4 2025.7 L609.9 2016.1 L610.4 2011.4 L610.9 2008.8 L611.4 2007.4 L611.9 2008.1 L612.9 2020.9 L613.9 2041.2 L617.9 2155.6 L619.4 2191.9 L620.9 2217.2 L621.9 2229.2 L622.4 2233.1 L623.9 2241.7 L624.9 2245.2 L625.4 2246.2 L626.4 2247.5 L627.4 2248.4 L628.9 2249.5 L631.4 2251.0 L632.4 2252.0 L634.9 2259.7 L636.9 2262.7 L637.9 2263.2 L641.4 2263.2 L641.9 2263.5 L642.4 2264.1 L644.9 2268.6 L646.9 2270.5 L648.4 2271.3 L652.4 2271.8 L658.9 2271.8 L659.9 2271.6 L662.4 2270.0 L665.4 2265.1 L666.9 2264.3 L669.9 2263.4 L671.9 2262.1 L673.4 2260.3 L674.4 2258.7 L675.4 2256.2 L676.9 2249.9 L677.9 2244.2 L678.9 2236.2 L679.9 2225.7 L681.9 2192.1 L683.4 2154.2 L687.4 2021.9 L688.4 2003.9 L688.9 1998.4 L689.4 1997.3 L689.9 2001.3 L690.4 2008.8 L691.4 2028.3 L693.9 2098.0 L695.9 2144.9 L697.4 2175.0 L698.4 2191.4 L699.9 2209.5 L700.4 2213.7 L700.9 2216.2 L701.9 2219.4 L702.9 2221.6 L703.4 2222.2 L703.9 2222.3 L704.4 2222.1 L705.4 2220.7 L706.9 2216.7 L707.9 2209.7 L708.9 2198.1 L709.9 2181.4 L711.4 2144.8 L714.9 2036.2 L715.9 2018.4 L716.4 2013.9 L716.9 2014.9 L717.4 2019.6 L717.9 2026.2 L718.4 2037.6 L721.4 2136.1 L723.4 2184.3 L724.4 2201.1 L725.9 2219.9 L727.4 2231.5 L728.4 2236.3 L729.9 2239.4 L730.4 2240.0 L730.9 2240.1 L731.4 2239.8 L732.4 2238.1 L733.4 2235.1 L733.9 2233.1 L734.4 2229.5 L735.9 2213.5 L736.9 2198.7 L740.9 2122.6 L741.9 2114.5 L742.4 2112.6 L742.9 2112.8 L743.4 2115.5 L744.4 2125.2 L747.4 2187.0 L749.4 2219.8 L750.4 2231.2 L751.4 2240.1 L752.4 2246.2 L753.4 2250.1 L754.4 2252.6 L754.9 2253.0 L756.9 2253.9 L757.9 2253.9 L758.4 2253.5 L760.4 2250.6 L761.4 2248.2 L762.4 2244.4 L763.4 2239.2 L764.4 2229.5 L765.9 2207.3 L768.4 2156.1 L769.4 2145.4 L769.9 2142.7 L770.4 2142.8 L770.9 2145.6 L771.9 2155.2 L774.9 2212.7 L776.4 2237.5 L777.4 2249.0 L778.9 2258.6 L779.9 2262.7 L781.4 2266.8 L783.4 2270.7 L785.4 2273.3 L787.9 2275.7 L789.9 2277.1 L793.9 2278.6 L797.9 2279.6 L804.4 2280.5 L810.4 2280.9 L815.4 2281.0 L827.9 2280.6 L836.4 2281.6 L839.4 2281.7 L842.4 2281.3 L848.9 2279.6 L851.9 2279.0 L876.4 2278.5 L879.9 2278.0 L883.4 2277.2 L885.9 2276.3 L887.9 2274.9 L892.4 2270.9 L895.9 2266.7 L897.4 2265.7 L899.9 2265.3 L902.4 2265.2 L903.4 2265.7 L905.9 2267.7 L906.9 2268.0 L912.9 2267.9 L913.9 2267.6 L915.4 2266.7 L917.4 2264.9 L918.9 2262.5 L920.9 2257.9 L924.9 2244.4 L925.4 2243.3 L925.9 2242.7 L927.4 2242.1 L928.4 2242.0 L928.9 2242.3 L929.9 2243.5 L931.4 2245.8 L933.9 2251.1 L935.4 2253.2 L936.9 2254.8 L938.9 2255.6 L941.4 2256.0 L942.9 2255.5 L944.9 2254.0 L946.4 2252.3 L947.4 2250.5 L948.9 2246.9 L951.9 2238.4 L953.9 2231.2 L957.9 2211.9 L958.9 2208.0 L959.9 2205.4 L961.4 2202.7 L962.4 2201.5 L963.9 2200.5 L967.4 2198.8 L969.4 2197.2 L970.9 2195.7 L972.9 2193.0 L973.9 2190.8 L974.9 2187.9 L976.9 2180.8 L979.4 2169.2 L981.4 2158.0 L984.4 2137.3 L988.4 2116.9 L989.4 2113.1 L990.9 2111.0 L991.9 2110.3 L992.4 2110.1 L992.9 2110.3 L993.4 2110.7 L994.9 2112.6 L997.4 2114.9 L998.4 2115.2 L998.9 2114.8 L1000.4 2112.0 L1001.9 2107.8 L1003.9 2099.6 L1005.4 2092.3 L1006.9 2087.6 L1008.4 2084.8 L1009.9 2083.5 L1011.4 2083.0 L1011.9 2083.2 L1012.9 2083.9 L1014.4 2085.8 L1015.9 2089.9 L1017.4 2095.4 L1024.4 2128.1 L1025.4 2130.7 L1026.9 2133.0 L1027.4 2133.4 L1027.9 2133.6 L1028.4 2133.4 L1029.4 2132.3 L1030.4 2130.6 L1031.4 2127.0 L1033.9 2115.3 L1034.9 2111.9 L1035.9 2110.6 L1036.9 2109.9 L1037.4 2110.1 L1038.4 2112.2 L1039.4 2115.4 L1040.4 2119.7 L1043.4 2136.7 L1044.9 2146.8 L1048.9 2177.6 L1050.9 2190.3 L1053.4 2202.1 L1054.4 2206.1 L1055.4 2208.9 L1056.9 2211.2 L1057.9 2212.3 L1058.9 2212.8 L1059.4 2212.8 L1060.9 2212.0 L1062.9 2210.1 L1065.4 2206.6 L1066.4 2206.2 L1068.4 2205.9 L1068.9 2206.0 L1069.4 2206.5 L1070.4 2208.7 L1071.4 2211.8 L1075.4 2231.9 L1078.4 2243.2 L1080.9 2250.4 L1082.4 2254.1 L1083.4 2256.1 L1085.4 2258.7 L1086.4 2259.6 L1087.4 2260.0 L1090.4 2260.4 L1091.4 2260.0 L1092.4 2258.9 L1094.4 2255.8 L1096.9 2250.5 L1098.9 2247.4 L1099.9 2246.3 L1100.4 2246.1 L1100.9 2246.2 L1101.9 2246.9 L1103.4 2248.7 L1107.9 2260.9 L1108.9 2263.2 L1110.4 2265.7 L1111.9 2267.7 L1113.4 2269.2 L1115.4 2270.4 L1117.9 2271.6 L1119.9 2272.1 L1121.9 2271.8 L1125.4 2270.0 L1128.4 2267.7 L1130.9 2267.0 L1132.9 2266.8 L1133.9 2267.3 L1134.9 2268.2 L1137.4 2270.7 L1140.9 2274.6 L1145.4 2278.6 L1146.9 2279.5 L1149.9 2280.6 L1155.4 2282.1 L1162.4 2283.1 L1169.9 2283.9 L1197.4 2285.1 L1232.9 2285.2 L1234.4 2285.4 L1237.4 2286.4 L1238.9 2286.6 L1269.9 2286.5 L1293.9 2286.2 L1297.9 2285.2 L1442.9 2285.2 L1446.9 2284.1 L1502.9 2284.1 L1507.4 2283.7 L1517.9 2282.1 L1533.4 2281.2 L1541.4 2280.4 L1548.9 2279.4 L1553.9 2278.4 L1566.9 2274.1 L1579.4 2271.0 L1583.9 2269.3 L1586.9 2267.5 L1587.9 2266.8 L1591.4 2262.9 L1601.4 2253.3 L1603.9 2250.6 L1606.4 2247.5 L1608.4 2244.6 L1612.4 2237.7 L1613.9 2234.4 L1615.4 2230.2 L1622.9 2199.9 L1624.4 2192.2 L1626.4 2175.7 L1627.4 2169.7 L1628.9 2162.8 L1630.4 2157.6 L1630.9 2156.4 L1632.4 2154.1 L1633.4 2153.2 L1633.9 2153.0 L1642.4 2153.9 L1643.4 2153.9 L1643.9 2153.7 L1645.4 2152.1 L1647.4 2148.7 L1649.4 2143.1 L1650.9 2136.3 L1652.9 2122.7 L1654.9 2104.1 L1656.4 2088.0 L1656.9 2083.4 L1657.9 2077.2 L1661.9 2057.6 L1663.4 2052.1 L1663.9 2050.7 L1664.9 2049.0 L1666.4 2047.6 L1667.4 2047.2 L1667.9 2047.3 L1668.9 2048.2 L1670.4 2050.9 L1670.9 2052.3 L1672.9 2061.4 L1675.9 2078.7 L1678.4 2090.1 L1680.9 2103.0 L1682.9 2110.0 L1683.9 2112.5 L1684.9 2114.3 L1685.9 2115.8 L1686.9 2116.8 L1688.9 2117.5 L1689.9 2117.7 L1690.4 2117.4 L1691.4 2115.7 L1692.9 2112.0 L1695.4 2104.8 L1696.4 2103.2 L1697.9 2101.7 L1698.9 2101.5 L1699.9 2102.0 L1701.4 2103.7 L1702.4 2105.8 L1703.9 2111.4 L1704.9 2116.3 L1708.9 2140.4 L1712.9 2162.3 L1715.4 2178.0 L1716.4 2182.2 L1718.9 2190.8 L1721.4 2202.7 L1722.9 2207.7 L1724.4 2211.6 L1726.4 2215.8 L1727.9 2218.4 L1729.4 2219.9 L1731.4 2221.2 L1732.9 2221.6 L1737.9 2220.9 L1741.4 2220.9 L1741.9 2221.2 L1742.9 2223.1 L1746.9 2234.7 L1747.9 2237.1 L1750.4 2241.3 L1752.4 2243.4 L1753.4 2244.2 L1754.4 2244.7 L1755.9 2244.7 L1758.4 2244.2 L1759.4 2243.7 L1759.9 2243.3 L1761.9 2240.5 L1763.4 2237.4 L1764.9 2232.4 L1766.4 2226.5 L1768.9 2214.4 L1770.4 2210.6 L1770.9 2209.8 L1771.4 2209.4 L1774.4 2209.4 L1774.9 2210.0 L1776.9 2216.1 L1779.4 2226.8 L1780.9 2231.1 L1781.9 2233.3 L1782.4 2233.9 L1784.4 2235.7 L1785.9 2236.2 L1786.9 2236.1 L1788.4 2235.5 L1789.9 2234.5 L1790.4 2234.0 L1791.4 2232.3 L1792.4 2230.1 L1793.4 2227.6 L1794.4 2224.0 L1798.4 2202.6 L1801.4 2181.9 L1802.9 2175.3 L1803.4 2174.3 L1804.4 2173.5 L1805.4 2173.1 L1805.9 2173.2 L1806.4 2173.7 L1806.9 2174.7 L1808.9 2180.1 L1810.9 2186.7 L1811.9 2188.9 L1813.4 2191.5 L1814.9 2192.9 L1817.4 2193.8 L1818.4 2193.9 L1820.4 2192.8 L1820.9 2192.9 L1821.4 2194.1 L1822.4 2198.3 L1823.9 2203.2 L1824.9 2205.6 L1825.4 2205.9 L1826.4 2205.7 L1828.9 2204.0 L1829.9 2202.7 L1830.9 2200.9 L1832.9 2196.4 L1838.4 2178.6 L1841.4 2166.5 L1841.9 2165.2 L1842.9 2163.4 L1843.9 2162.0 L1844.4 2161.6 L1844.9 2161.6 L1845.4 2161.8 L1846.4 2163.2 L1847.9 2166.6 L1848.4 2168.4 L1850.9 2183.7 L1852.9 2198.6 L1854.4 2207.3 L1855.9 2213.7 L1857.4 2217.9 L1858.4 2219.9 L1860.4 2221.9 L1861.4 2222.3 L1861.9 2222.3 L1862.9 2221.8 L1863.9 2220.8 L1865.4 2218.9 L1866.4 2216.9 L1868.9 2210.2 L1871.9 2200.0 L1873.9 2194.9 L1874.9 2193.2 L1875.9 2192.7 L1878.9 2192.3 L1879.9 2192.6 L1881.9 2193.8 L1882.4 2193.9 L1882.9 2193.7 L1888.4 2186.7 L1889.4 2186.3 L1893.4 2186.3 L1894.4 2186.1 L1895.4 2185.1 L1896.4 2183.1 L1898.4 2177.2 L1900.9 2161.9 L1903.4 2150.8 L1904.4 2144.0 L1905.9 2129.8 L1906.9 2122.2 L1907.9 2116.7 L1908.9 2114.6 L1909.4 2114.1 L1909.9 2114.0 L1910.4 2115.1 L1911.4 2119.7 L1912.4 2126.5 L1914.9 2148.3 L1915.4 2150.9 L1916.4 2154.0 L1916.9 2155.0 L1917.4 2155.4 L1919.4 2155.9 L1919.9 2155.9 L1920.4 2155.7 L1921.4 2154.2 L1922.4 2152.0 L1923.9 2147.5 L1925.9 2138.1 L1926.9 2132.4 L1931.4 2102.1 L1935.4 2077.0 L1936.4 2072.5 L1938.9 2064.4 L1939.9 2059.3 L1941.9 2045.5 L1943.4 2032.0 L1944.9 2013.4 L1945.9 1995.3 L1947.9 1944.1 L1949.9 1886.3 L1950.4 1875.6 L1951.4 1863.0 L1951.9 1859.8 L1952.9 1857.7 L1953.4 1857.1 L1953.9 1856.7 L1954.4 1856.7 L1956.4 1857.6 L1956.9 1857.4 L1957.4 1855.8 L1960.4 1841.6 L1961.4 1839.7 L1962.4 1838.7 L1962.9 1839.1 L1963.9 1844.4 L1964.4 1848.0 L1965.9 1865.9 L1966.4 1869.8 L1970.4 1892.6 L1971.9 1906.2 L1973.4 1926.1 L1974.4 1942.5 L1975.4 1963.0 L1976.9 2001.2 L1979.4 2044.1 L1982.9 2090.5 L1983.9 2101.2 L1985.4 2112.0 L1985.9 2114.3 L1986.4 2115.3 L1987.4 2116.2 L1988.4 2116.4 L1988.9 2115.3 L1989.9 2110.8 L1990.4 2108.0 L1991.4 2098.3 L1993.9 2064.3 L1995.4 2046.9 L1996.9 2037.6 L1997.4 2036.2 L1998.4 2034.8 L1998.9 2034.5 L1999.4 2034.7 L1999.9 2036.5 L2000.9 2042.7 L2001.9 2054.3 L2005.9 2124.1 L2008.4 2160.8 L2010.4 2182.4 L2011.9 2195.6 L2012.9 2202.6 L2014.4 2210.0 L2015.4 2213.7 L2017.4 2219.1 L2018.4 2220.9 L2018.9 2221.3 L2020.4 2221.0 L2022.4 2219.9 L2023.9 2218.4 L2024.4 2218.2 L2024.9 2218.3 L2025.9 2219.8 L2027.4 2223.9 L2028.9 2232.1 L2029.9 2236.5 L2032.4 2244.1 L2034.4 2248.8 L2036.4 2252.7 L2038.4 2255.5 L2040.4 2257.7 L2041.9 2258.7 L2043.9 2259.7 L2045.4 2260.1 L2046.4 2260.1 L2048.4 2259.5 L2050.4 2258.4 L2051.4 2257.7 L2052.9 2255.7 L2054.9 2251.8 L2056.9 2244.8 L2058.9 2231.1 L2060.4 2224.5 L2060.9 2223.3 L2061.9 2222.7 L2062.9 2222.6 L2063.4 2223.6 L2064.9 2230.5 L2066.9 2243.0 L2068.4 2250.4 L2069.4 2253.9 L2070.9 2257.7 L2071.9 2259.7 L2073.4 2262.0 L2075.4 2264.6 L2077.4 2266.6 L2078.9 2267.8 L2080.4 2268.7 L2085.4 2271.0 L2088.9 2271.9 L2094.4 2272.5 L2101.4 2273.1 L2107.4 2273.2 L2112.4 2272.8 L2120.9 2271.6 L2130.9 2270.5 L2135.4 2269.7 L2141.4 2267.9 L2144.9 2266.5 L2147.4 2265.2 L2149.4 2263.8 L2151.9 2261.5 L2154.9 2258.4 L2156.9 2255.9 L2161.4 2248.9 L2164.9 2242.9 L2166.9 2238.9 L2168.4 2235.2 L2169.4 2232.2 L2171.9 2221.7 L2173.9 2210.5 L2175.9 2195.5 L2180.4 2150.2 L2182.4 2132.6 L2183.9 2123.0 L2185.4 2116.2 L2186.9 2113.1 L2187.9 2111.9 L2188.4 2111.6 L2188.9 2111.5 L2189.9 2111.8 L2191.4 2112.9 L2191.9 2113.6 L2193.9 2117.9 L2196.4 2122.3 L2197.4 2123.5 L2197.9 2123.8 L2198.4 2123.8 L2198.9 2123.6 L2199.9 2122.8 L2201.9 2120.0 L2203.4 2115.9 L2205.9 2104.7 L2207.9 2091.4 L2209.4 2079.2 L2214.4 2033.7 L2215.9 2022.6 L2216.9 2018.2 L2217.9 2014.9 L2219.4 2012.6 L2220.4 2011.7 L2220.9 2011.5 L2221.4 2011.6 L2222.4 2013.3 L2223.9 2018.5 L2224.9 2026.2 L2229.4 2069.7 L2232.4 2094.9 L2234.9 2110.5 L2236.9 2121.5 L2237.9 2125.7 L2239.4 2129.9 L2240.4 2131.9 L2241.9 2133.6 L2243.4 2134.7 L2244.4 2134.9 L2245.4 2134.4 L2247.4 2131.9 L2249.4 2129.9 L2250.9 2128.8 L2251.4 2128.7 L2252.4 2129.4 L2254.4 2132.8 L2255.9 2138.3 L2258.4 2151.3 L2260.4 2164.0 L2264.4 2192.6 L2266.4 2204.1 L2267.9 2211.0 L2270.9 2219.8 L2273.9 2231.3 L2275.4 2235.5 L2277.4 2240.3 L2279.9 2245.6 L2282.4 2250.0 L2285.9 2255.1 L2289.4 2259.4 L2291.9 2262.1 L2293.9 2264.0 L2295.4 2265.2 L2297.9 2266.6 L2301.9 2268.5 L2307.4 2270.6 L2311.4 2271.9 L2315.9 2273.0 L2316.4 2273.3 L2318.4 2276.1 L2322.4 2276.9 L2332.9 2277.9 L2359.9 2281.3 L2372.4 2282.1 L2387.4 2282.5 L2446.9 2283.1 L2451.9 2283.3 L2458.2 2283.7"/>
<path class="i" d="M518.8 813.1 L544.8 812.7 L552.8 812.4 L559.8 811.9 L571.3 810.7 L585.8 808.5 L606.8 805.8 L622.8 804.1 L627.8 803.2 L634.3 800.5 L639.8 799.3 L656.3 796.6 L675.3 794.3 L684.3 792.9 L688.8 792.0 L694.3 790.1 L699.8 788.8 L723.8 784.1 L734.3 782.4 L746.8 781.2 L773.3 779.7 L779.3 779.1 L799.6 779.1"/>
<path class="i" d="M2133.5 812.9 L2168.0 809.3 L2176.5 808.0 L2180.0 807.0 L2184.0 805.3 L2189.0 802.8 L2192.5 800.6 L2200.0 794.8 L2205.5 790.1 L2213.5 782.4 L2219.0 776.5 L2223.5 770.8 L2231.0 758.3 L2236.5 750.3 L2242.5 742.6 L2248.5 735.8 L2254.5 730.1 L2263.5 722.8 L2267.5 719.9 L2272.5 716.9 L2277.0 714.8 L2282.0 713.2 L2288.5 711.7 L2297.5 710.0 L2303.0 709.2 L2311.0 708.5 L2331.0 707.3"/>
<path class="i" d="M518.8 1273.8 L527.8 1273.1 L537.8 1272.0 L545.8 1270.7 L556.8 1268.6 L570.3 1265.3 L592.8 1258.1 L595.8 1256.7 L600.8 1253.3 L602.8 1252.2 L618.8 1245.4 L625.8 1241.9 L629.3 1239.3 L635.8 1233.1 L639.3 1230.3 L650.3 1222.9 L656.3 1219.3 L660.3 1217.5 L664.3 1216.0 L672.3 1214.1 L678.8 1212.9 L680.3 1212.4 L681.8 1211.7 L684.3 1209.9 L688.8 1205.9 L693.8 1200.4 L695.8 1198.6 L698.8 1197.1 L706.3 1194.3 L709.3 1192.7 L712.3 1190.9 L715.8 1188.2 L720.3 1183.5 L724.3 1179.7 L726.8 1177.9 L729.3 1177.1 L735.3 1175.9 L737.8 1175.2 L740.3 1174.0 L746.3 1170.6 L749.3 1169.3 L753.3 1168.4 L762.3 1166.9 L768.8 1165.5 L770.8 1164.8 L775.3 1162.2 L779.3 1161.1 L782.8 1160.4 L786.3 1160.0 L807.7 1159.4"/>
<path class="i" d="M2130.0 1273.8 L2142.0 1271.7 L2155.5 1268.8 L2164.0 1266.4 L2170.5 1264.0 L2175.0 1261.6 L2178.5 1258.9 L2184.0 1253.3 L2188.0 1248.1 L2191.5 1242.9 L2194.0 1238.8 L2201.5 1224.4 L2209.5 1210.6 L2213.5 1202.3 L2219.0 1188.8 L2223.0 1178.3 L2225.5 1171.0 L2235.5 1139.3 L2238.0 1132.7 L2241.5 1124.8 L2250.5 1107.1 L2259.5 1091.2 L2264.0 1084.4 L2267.0 1080.6 L2270.0 1077.3 L2276.0 1071.5 L2280.5 1068.0 L2284.0 1066.0 L2287.5 1064.2 L2291.5 1062.5 L2296.0 1060.9 L2304.5 1058.5 L2316.0 1056.3 L2329.0 1054.7 L2340.3 1053.9"/>
<path class="i" d="M508.6 1743.6 L526.6 1743.1 L530.1 1742.9 L533.1 1742.3 L550.6 1737.4 L556.6 1735.5 L579.6 1726.7 L584.1 1724.7 L588.1 1722.6 L590.1 1721.3 L592.6 1719.1 L599.6 1712.1 L606.1 1706.9 L614.1 1701.2 L625.1 1693.9 L634.1 1686.9 L638.1 1684.3 L645.1 1680.7 L657.1 1675.4 L661.6 1674.1 L672.6 1672.3 L675.1 1671.5 L677.6 1670.1 L680.6 1667.8 L683.1 1665.4 L689.1 1656.6 L690.6 1654.9 L693.6 1652.1 L695.6 1650.6 L697.1 1649.8 L703.6 1647.5 L707.1 1645.5 L713.1 1640.6 L719.1 1634.2 L721.6 1632.3 L724.1 1631.1 L730.6 1628.8 L733.6 1627.4 L736.1 1625.8 L742.1 1621.3 L744.6 1619.8 L749.1 1618.3 L758.1 1616.4 L762.1 1615.3 L764.6 1614.1 L770.6 1610.6 L773.1 1609.5 L778.6 1608.2 L784.1 1607.4 L792.6 1606.8 L798.9 1606.6"/>
<path class="i" d="M2121.9 1743.8 L2151.9 1739.8 L2158.9 1738.6 L2164.4 1737.3 L2169.9 1735.5 L2173.9 1733.7 L2178.9 1730.5 L2182.4 1727.5 L2185.4 1724.1 L2189.9 1718.3 L2197.9 1706.1 L2205.9 1695.3 L2209.4 1689.6 L2216.9 1675.1 L2229.4 1648.1 L2235.9 1634.5 L2238.9 1628.6 L2241.4 1624.4 L2251.9 1609.1 L2257.4 1601.6 L2264.9 1592.7 L2267.4 1590.3 L2270.4 1587.7 L2274.9 1584.4 L2279.9 1581.6 L2284.9 1579.4 L2289.9 1577.9 L2297.4 1576.4 L2306.9 1575.1 L2319.4 1573.8 L2332.2 1572.9"/>
<path d="M520.2 867.6 V892.0 M800.0 867.6 V892.0" stroke="#f00" stroke-width="4.8" fill="none" stroke-linecap="round"/>
<rect x="517.8" y="886.0" width="284.6" height="8.4" rx="1.5" fill="#f00"/>
<text transform="translate(660.1 856.1) scale(0.96 1)" class="r" font-size="37.8" text-anchor="middle">18.20</text>
<path d="M2134.2 867.8 V892.2 M2330.3 867.8 V892.2" stroke="#f00" stroke-width="4.8" fill="none" stroke-linecap="round"/>
<rect x="2131.8" y="885.8" width="200.9" height="8.8" rx="1.5" fill="#f00"/>
<text transform="translate(2232.2 855.5) scale(0.96 1)" class="r" font-size="37.8" text-anchor="middle">56.00</text>
<path d="M520.2 1327.8 V1352.0 M806.3 1327.8 V1352.0" stroke="#f00" stroke-width="4.8" fill="none" stroke-linecap="round"/>
<rect x="517.8" y="1345.6" width="290.9" height="8.8" rx="1.5" fill="#f00"/>
<text transform="translate(663.2 1315.1) scale(0.96 1)" class="r" font-size="37.8" text-anchor="middle">29.16</text>
<path d="M2131.9 1328.0 V1352.4 M2340.3 1328.0 V1352.4" stroke="#f00" stroke-width="4.8" fill="none" stroke-linecap="round"/>
<rect x="2129.5" y="1345.6" width="213.2" height="9.2" rx="1.5" fill="#f00"/>
<text transform="translate(2236.1 1314.9) scale(0.96 1)" class="r" font-size="37.8" text-anchor="middle">56.00</text>
<path d="M510.0 1799.1 V1823.3 M798.9 1799.1 V1823.3" stroke="#f00" stroke-width="4.8" fill="none" stroke-linecap="round"/>
<rect x="507.6" y="1817.1" width="293.7" height="8.6" rx="1.5" fill="#f00"/>
<text transform="translate(654.5 1787.4) scale(0.96 1)" class="r" font-size="37.8" text-anchor="middle">44.92</text>
<path d="M2122.6 1799.1 V1823.1 M2332.2 1799.1 V1823.1" stroke="#f00" stroke-width="4.8" fill="none" stroke-linecap="round"/>
<rect x="2120.2" y="1816.7" width="214.4" height="8.8" rx="1.5" fill="#f00"/>
<text transform="translate(2227.4 1786.7) scale(0.96 1)" class="r" font-size="37.8" text-anchor="middle">56.00</text>
<text transform="translate(68.0 267.5) scale(0.915 1)" class="L" font-size="57.6" text-anchor="start">A</text>
<text transform="translate(59.3 651.5) scale(0.96 1)" class="L" font-size="57.6" text-anchor="start">B</text>
<text transform="translate(59.8 1102.7) scale(0.96 1)" class="L" font-size="57.6" text-anchor="start">C</text>
<text transform="translate(64.5 1561.8) scale(0.96 1)" class="L" font-size="57.6" text-anchor="start">D</text>
<text transform="translate(68.4 2108.7) scale(0.96 1)" class="L" font-size="57.6" text-anchor="start">E</text>
<line x1="39.6" y1="2314.2" x2="2456.4" y2="2314.2" stroke="#000" stroke-width="4.2" stroke-linecap="round"/>
<path d="M41.0 2314.2 v20.5M56.0 2314.2 v11.5M69.8 2314.2 v11.5M83.6 2314.2 v11.5M97.4 2314.2 v11.5M111.2 2314.2 v16M125.0 2314.2 v11.5M138.8 2314.2 v11.5M152.6 2314.2 v11.5M166.4 2314.2 v11.5M180.2 2314.2 v20.5M194.0 2314.2 v11.5M207.8 2314.2 v11.5M221.6 2314.2 v11.5M235.4 2314.2 v11.5M249.2 2314.2 v16M263.0 2314.2 v11.5M276.8 2314.2 v11.5M290.6 2314.2 v11.5M304.4 2314.2 v11.5M318.3 2314.2 v20.5M332.1 2314.2 v11.5M345.9 2314.2 v11.5M359.7 2314.2 v11.5M373.5 2314.2 v11.5M387.3 2314.2 v16M401.1 2314.2 v11.5M414.9 2314.2 v11.5M428.7 2314.2 v11.5M442.5 2314.2 v11.5M456.3 2314.2 v20.5M470.1 2314.2 v11.5M483.9 2314.2 v11.5M497.7 2314.2 v11.5M511.5 2314.2 v11.5M525.3 2314.2 v16M539.1 2314.2 v11.5M552.9 2314.2 v11.5M566.7 2314.2 v11.5M580.5 2314.2 v11.5M594.3 2314.2 v20.5M608.2 2314.2 v11.5M622.0 2314.2 v11.5M635.8 2314.2 v11.5M649.6 2314.2 v11.5M663.4 2314.2 v16M677.2 2314.2 v11.5M691.0 2314.2 v11.5M704.8 2314.2 v11.5M718.6 2314.2 v11.5M732.4 2314.2 v20.5M746.2 2314.2 v11.5M760.0 2314.2 v11.5M773.8 2314.2 v11.5M787.6 2314.2 v11.5M801.4 2314.2 v16M815.2 2314.2 v11.5M829.0 2314.2 v11.5M842.8 2314.2 v11.5M856.6 2314.2 v11.5M870.5 2314.2 v20.5M884.3 2314.2 v11.5M898.1 2314.2 v11.5M911.9 2314.2 v11.5M925.7 2314.2 v11.5M939.5 2314.2 v16M953.3 2314.2 v11.5M967.1 2314.2 v11.5M980.9 2314.2 v11.5M994.7 2314.2 v11.5M1008.5 2314.2 v20.5M1022.3 2314.2 v11.5M1036.1 2314.2 v11.5M1049.9 2314.2 v11.5M1063.7 2314.2 v11.5M1077.5 2314.2 v16M1091.3 2314.2 v11.5M1105.1 2314.2 v11.5M1118.9 2314.2 v11.5M1132.7 2314.2 v11.5M1146.5 2314.2 v20.5M1160.4 2314.2 v11.5M1174.2 2314.2 v11.5M1188.0 2314.2 v11.5M1201.8 2314.2 v11.5M1215.6 2314.2 v16M1229.4 2314.2 v11.5M1243.2 2314.2 v11.5M1257.0 2314.2 v11.5M1270.8 2314.2 v11.5M1284.6 2314.2 v20.5M1298.4 2314.2 v11.5M1312.2 2314.2 v11.5M1326.0 2314.2 v11.5M1339.8 2314.2 v11.5M1353.6 2314.2 v16M1367.4 2314.2 v11.5M1381.2 2314.2 v11.5M1395.0 2314.2 v11.5M1408.8 2314.2 v11.5M1422.6 2314.2 v20.5M1436.5 2314.2 v11.5M1450.3 2314.2 v11.5M1464.1 2314.2 v11.5M1477.9 2314.2 v11.5M1491.7 2314.2 v16M1505.5 2314.2 v11.5M1519.3 2314.2 v11.5M1533.1 2314.2 v11.5M1546.9 2314.2 v11.5M1560.7 2314.2 v20.5M1574.5 2314.2 v11.5M1588.3 2314.2 v11.5M1602.1 2314.2 v11.5M1615.9 2314.2 v11.5M1629.7 2314.2 v16M1643.5 2314.2 v11.5M1657.3 2314.2 v11.5M1671.1 2314.2 v11.5M1684.9 2314.2 v11.5M1698.8 2314.2 v20.5M1712.6 2314.2 v11.5M1726.4 2314.2 v11.5M1740.2 2314.2 v11.5M1754.0 2314.2 v11.5M1767.8 2314.2 v16M1781.6 2314.2 v11.5M1795.4 2314.2 v11.5M1809.2 2314.2 v11.5M1823.0 2314.2 v11.5M1836.8 2314.2 v20.5M1850.6 2314.2 v11.5M1864.4 2314.2 v11.5M1878.2 2314.2 v11.5M1892.0 2314.2 v11.5M1905.8 2314.2 v16M1919.6 2314.2 v11.5M1933.4 2314.2 v11.5M1947.2 2314.2 v11.5M1961.0 2314.2 v11.5M1974.9 2314.2 v20.5M1988.7 2314.2 v11.5M2002.5 2314.2 v11.5M2016.3 2314.2 v11.5M2030.1 2314.2 v11.5M2043.9 2314.2 v16M2057.7 2314.2 v11.5M2071.5 2314.2 v11.5M2085.3 2314.2 v11.5M2099.1 2314.2 v11.5M2112.9 2314.2 v20.5M2126.7 2314.2 v11.5M2140.5 2314.2 v11.5M2154.3 2314.2 v11.5M2168.1 2314.2 v11.5M2181.9 2314.2 v16M2195.7 2314.2 v11.5M2209.5 2314.2 v11.5M2223.3 2314.2 v11.5M2237.1 2314.2 v11.5M2250.9 2314.2 v20.5M2264.8 2314.2 v11.5M2278.6 2314.2 v11.5M2292.4 2314.2 v11.5M2306.2 2314.2 v11.5M2320.0 2314.2 v16M2333.8 2314.2 v11.5M2347.6 2314.2 v11.5M2361.4 2314.2 v11.5M2375.2 2314.2 v11.5M2389.0 2314.2 v20.5M2402.8 2314.2 v11.5M2416.6 2314.2 v11.5M2430.4 2314.2 v11.5M2444.2 2314.2 v11.5" stroke="#000" stroke-width="4" stroke-linecap="round" fill="none"/>
<text transform="translate(2388.7 2365.8) scale(0.96 1)" class="t" font-size="36.4" text-anchor="middle">2.3</text>
<text transform="translate(2250.6 2365.8) scale(0.96 1)" class="t" font-size="36.4" text-anchor="middle">2.4</text>
<text transform="translate(2112.6 2365.8) scale(0.96 1)" class="t" font-size="36.4" text-anchor="middle">2.5</text>
<text transform="translate(1974.5 2365.8) scale(0.96 1)" class="t" font-size="36.4" text-anchor="middle">2.6</text>
<text transform="translate(1836.5 2365.8) scale(0.96 1)" class="t" font-size="36.4" text-anchor="middle">2.7</text>
<text transform="translate(1698.5 2365.8) scale(0.96 1)" class="t" font-size="36.4" text-anchor="middle">2.8</text>
<text transform="translate(1560.4 2365.8) scale(0.96 1)" class="t" font-size="36.4" text-anchor="middle">2.9</text>
<text transform="translate(1422.3 2365.8) scale(0.96 1)" class="t" font-size="36.4" text-anchor="middle">3.0</text>
<text transform="translate(1284.3 2365.8) scale(0.96 1)" class="t" font-size="36.4" text-anchor="middle">3.1</text>
<text transform="translate(1146.2 2365.8) scale(0.96 1)" class="t" font-size="36.4" text-anchor="middle">3.2</text>
<text transform="translate(1008.2 2365.8) scale(0.96 1)" class="t" font-size="36.4" text-anchor="middle">3.3</text>
<text transform="translate(870.2 2365.8) scale(0.96 1)" class="t" font-size="36.4" text-anchor="middle">3.4</text>
<text transform="translate(732.1 2365.8) scale(0.96 1)" class="t" font-size="36.4" text-anchor="middle">3.5</text>
<text transform="translate(594.0 2365.8) scale(0.96 1)" class="t" font-size="36.4" text-anchor="middle">3.6</text>
<text transform="translate(456.0 2365.8) scale(0.96 1)" class="t" font-size="36.4" text-anchor="middle">3.7</text>
<text transform="translate(318.0 2365.8) scale(0.96 1)" class="t" font-size="36.4" text-anchor="middle">3.8</text>
<text transform="translate(179.9 2365.8) scale(0.96 1)" class="t" font-size="36.4" text-anchor="middle">3.9</text>
<text transform="translate(1247.8 2408.8) scale(0.96 1)" class="t" font-size="37.6" text-anchor="middle">Chemical Shift (ppm)</text>
</svg></body></html>
